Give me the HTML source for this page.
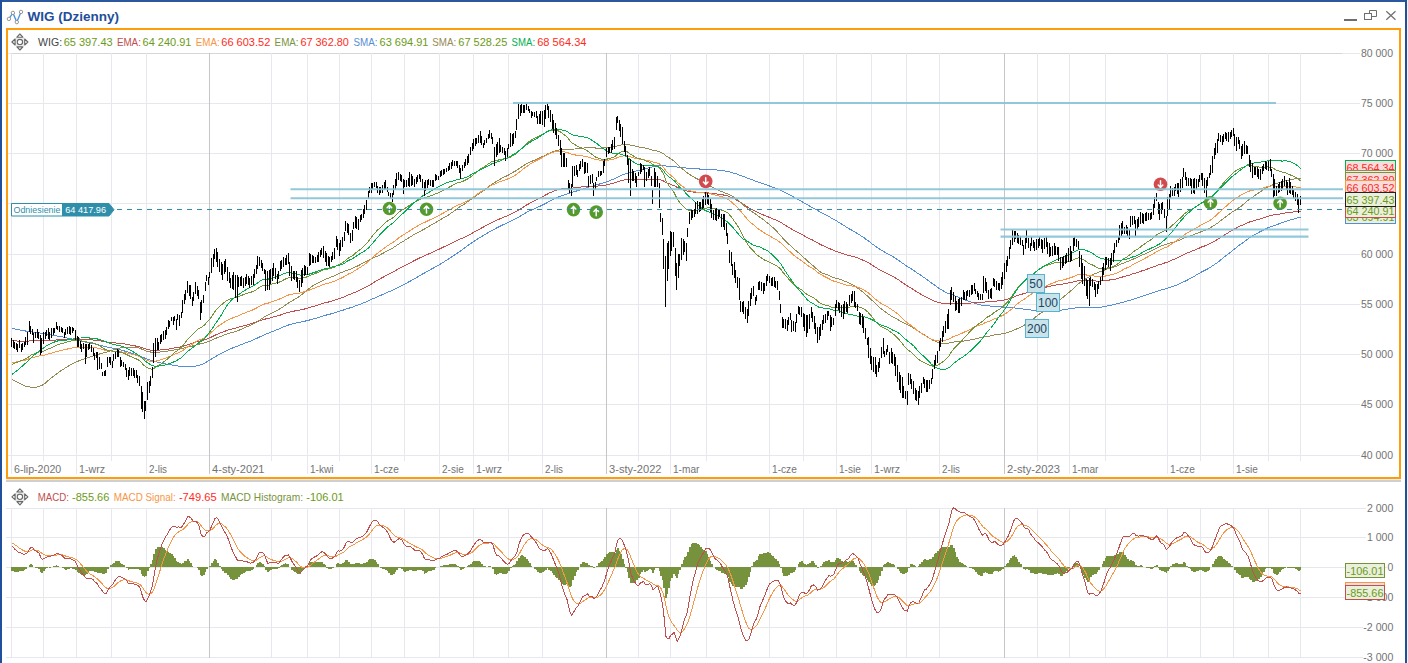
<!DOCTYPE html><html><head><meta charset="utf-8"><title>WIG (Dzienny)</title><style>
html,body{margin:0;padding:0;background:#fff;overflow:hidden}
body{width:1408px;height:663px;position:relative;font-family:"Liberation Sans",sans-serif}
svg{position:absolute;left:0;top:0;display:block}
text{font-family:"Liberation Sans",sans-serif}
</style></head><body>
<svg width="1408" height="663" viewBox="0 0 1408 663">
<rect x="0" y="0" width="1408" height="663" fill="#fff"/>
<g shape-rendering="crispEdges">
<rect x="0" y="0" width="1407" height="2" fill="#2a589f"/>
<rect x="0" y="0" width="2" height="663" fill="#20509c"/>
<rect x="1405" y="0" width="2" height="663" fill="#20509c"/>
<rect x="1407" y="0" width="1" height="663" fill="#f4f0ea"/>
<rect x="6" y="28" width="1395" height="2" fill="#ff9c0a"/>
<rect x="6" y="477" width="1395" height="2" fill="#ff9c0a"/>
<rect x="6" y="28" width="2" height="451" fill="#ff9c0a"/>
<rect x="1399" y="28" width="2" height="451" fill="#ff9c0a"/>
<rect x="6" y="479" width="1395" height="1" fill="#ececec"/>
<rect x="6" y="480" width="1395" height="2" fill="#cfcfcf"/>
</g>
<g shape-rendering="crispEdges">
<rect x="8" y="53" width="1352" height="1" fill="#e6e8ee"/>
<rect x="8" y="103" width="1352" height="1" fill="#e6e8ee"/>
<rect x="8" y="153" width="1352" height="1" fill="#e6e8ee"/>
<rect x="8" y="203" width="1352" height="1" fill="#e6e8ee"/>
<rect x="8" y="254" width="1352" height="1" fill="#e6e8ee"/>
<rect x="8" y="304" width="1352" height="1" fill="#e6e8ee"/>
<rect x="8" y="354" width="1352" height="1" fill="#e6e8ee"/>
<rect x="8" y="404" width="1352" height="1" fill="#e6e8ee"/>
<rect x="8" y="455" width="1352" height="1" fill="#e6e8ee"/>
<rect x="11" y="53" width="1331" height="1" fill="#d6d6d8"/>
<rect x="11" y="53" width="1" height="421" fill="#e6e8ee"/>
<rect x="43" y="53" width="1" height="408" fill="#e6e8ee"/>
<rect x="76" y="53" width="1" height="421" fill="#e6e8ee"/>
<rect x="111" y="53" width="1" height="408" fill="#e6e8ee"/>
<rect x="146" y="53" width="1" height="421" fill="#e6e8ee"/>
<rect x="209" y="53" width="1" height="421" fill="#c6c6c6"/>
<rect x="271" y="53" width="1" height="408" fill="#e6e8ee"/>
<rect x="307" y="53" width="1" height="421" fill="#e6e8ee"/>
<rect x="339" y="53" width="1" height="408" fill="#e6e8ee"/>
<rect x="371" y="53" width="1" height="421" fill="#e6e8ee"/>
<rect x="404" y="53" width="1" height="408" fill="#e6e8ee"/>
<rect x="439" y="53" width="1" height="421" fill="#e6e8ee"/>
<rect x="473" y="53" width="1" height="421" fill="#e6e8ee"/>
<rect x="508" y="53" width="1" height="408" fill="#e6e8ee"/>
<rect x="542" y="53" width="1" height="421" fill="#e6e8ee"/>
<rect x="606" y="53" width="1" height="421" fill="#c6c6c6"/>
<rect x="638" y="53" width="1" height="408" fill="#e6e8ee"/>
<rect x="670" y="53" width="1" height="421" fill="#e6e8ee"/>
<rect x="706" y="53" width="1" height="408" fill="#e6e8ee"/>
<rect x="769" y="53" width="1" height="421" fill="#e6e8ee"/>
<rect x="803" y="53" width="1" height="408" fill="#e6e8ee"/>
<rect x="836" y="53" width="1" height="421" fill="#e6e8ee"/>
<rect x="871" y="53" width="1" height="421" fill="#e6e8ee"/>
<rect x="906" y="53" width="1" height="408" fill="#e6e8ee"/>
<rect x="939" y="53" width="1" height="421" fill="#e6e8ee"/>
<rect x="1004" y="53" width="1" height="421" fill="#c6c6c6"/>
<rect x="1037" y="53" width="1" height="408" fill="#e6e8ee"/>
<rect x="1069" y="53" width="1" height="421" fill="#e6e8ee"/>
<rect x="1105" y="53" width="1" height="408" fill="#e6e8ee"/>
<rect x="1167" y="53" width="1" height="421" fill="#e6e8ee"/>
<rect x="1200" y="53" width="1" height="408" fill="#e6e8ee"/>
<rect x="1233" y="53" width="1" height="421" fill="#e6e8ee"/>
<rect x="1268" y="53" width="1" height="408" fill="#e6e8ee"/>
<rect x="1300" y="53" width="1" height="408" fill="#e6e8ee"/>
</g>
<g shape-rendering="crispEdges">
<rect x="6" y="508" width="1360" height="1" fill="#e6e8ee"/>
<rect x="6" y="537" width="1360" height="1" fill="#e6e8ee"/>
<rect x="6" y="567" width="1381" height="1" fill="#e6e8ee"/>
<rect x="6" y="597" width="1357" height="1" fill="#e6e8ee"/>
<rect x="6" y="627" width="1357" height="1" fill="#e6e8ee"/>
<rect x="6" y="657" width="1357" height="1" fill="#e6e8ee"/>
<rect x="11" y="508" width="1" height="150" fill="#e6e8ee"/>
<rect x="43" y="508" width="1" height="150" fill="#e6e8ee"/>
<rect x="76" y="508" width="1" height="150" fill="#e6e8ee"/>
<rect x="111" y="508" width="1" height="150" fill="#e6e8ee"/>
<rect x="146" y="508" width="1" height="150" fill="#e6e8ee"/>
<rect x="209" y="508" width="1" height="150" fill="#c6c6c6"/>
<rect x="271" y="508" width="1" height="150" fill="#e6e8ee"/>
<rect x="307" y="508" width="1" height="150" fill="#e6e8ee"/>
<rect x="339" y="508" width="1" height="150" fill="#e6e8ee"/>
<rect x="371" y="508" width="1" height="150" fill="#e6e8ee"/>
<rect x="404" y="508" width="1" height="150" fill="#e6e8ee"/>
<rect x="439" y="508" width="1" height="150" fill="#e6e8ee"/>
<rect x="473" y="508" width="1" height="150" fill="#e6e8ee"/>
<rect x="508" y="508" width="1" height="150" fill="#e6e8ee"/>
<rect x="542" y="508" width="1" height="150" fill="#e6e8ee"/>
<rect x="606" y="508" width="1" height="150" fill="#c6c6c6"/>
<rect x="638" y="508" width="1" height="150" fill="#e6e8ee"/>
<rect x="670" y="508" width="1" height="150" fill="#e6e8ee"/>
<rect x="706" y="508" width="1" height="150" fill="#e6e8ee"/>
<rect x="769" y="508" width="1" height="150" fill="#e6e8ee"/>
<rect x="803" y="508" width="1" height="150" fill="#e6e8ee"/>
<rect x="836" y="508" width="1" height="150" fill="#e6e8ee"/>
<rect x="871" y="508" width="1" height="150" fill="#e6e8ee"/>
<rect x="906" y="508" width="1" height="150" fill="#e6e8ee"/>
<rect x="939" y="508" width="1" height="150" fill="#e6e8ee"/>
<rect x="1004" y="508" width="1" height="150" fill="#c6c6c6"/>
<rect x="1037" y="508" width="1" height="150" fill="#e6e8ee"/>
<rect x="1069" y="508" width="1" height="150" fill="#e6e8ee"/>
<rect x="1105" y="508" width="1" height="150" fill="#e6e8ee"/>
<rect x="1167" y="508" width="1" height="150" fill="#e6e8ee"/>
<rect x="1200" y="508" width="1" height="150" fill="#e6e8ee"/>
<rect x="1233" y="508" width="1" height="150" fill="#e6e8ee"/>
<rect x="1268" y="508" width="1" height="150" fill="#e6e8ee"/>
<rect x="1300" y="508" width="1" height="150" fill="#e6e8ee"/>
</g>
<polyline shape-rendering="crispEdges" points="11.9,328.4 13.5,328.7 15.1,329.1 16.7,329.4 18.3,329.7 19.9,330 21.5,330.3 23.1,330.6 24.7,330.9 26.3,331.1 27.9,331.4 29.5,331.5 31.1,331.7 32.7,332 34.3,332.2 35.9,332.4 37.5,332.6 39.1,332.9 40.7,333.2 42.3,333.5 43.9,333.7 45.5,334 47.1,334.2 48.7,334.5 50.3,334.8 51.9,335 53.5,335.3 55.1,335.6 56.7,335.9 58.3,336.2 59.9,336.5 61.5,336.8 63.1,337.1 64.7,337.5 66.3,337.9 67.9,338.2 69.5,338.6 71.1,338.9 72.7,339.2 74.3,339.6 75.9,339.9 77.5,340.3 79.1,340.6 80.7,341 82.3,341.4 83.9,341.7 85.5,342.1 87.1,342.4 88.7,342.7 90.3,343 91.8,343.4 93.4,343.7 95,344 96.6,344.3 98.2,344.7 99.8,345.1 101.4,345.5 103,345.9 104.6,346.3 106.2,346.7 107.8,347.1 109.4,347.4 111,347.8 112.6,348.2 114.2,348.5 115.8,348.9 117.4,349.2 119,349.6 120.6,350 122.2,350.4 123.8,350.8 125.4,351.3 127,351.8 128.6,352.3 130.2,352.7 131.8,353.2 133.4,353.7 135,354.3 136.6,354.8 138.2,355.3 139.8,355.9 141.4,356.6 143,357.3 144.6,358 146.2,358.7 147.8,359.3 149.4,359.9 151,360.5 152.6,361 154.2,361.4 155.8,361.8 157.4,362.2 159,362.6 160.6,362.9 162.2,363.3 163.8,363.6 165.4,363.9 167,364.2 168.6,364.5 170.2,364.8 171.8,365 173.4,365.3 175,365.6 176.6,365.8 178.2,366.1 179.8,366.3 181.4,366.5 183,366.7 184.6,366.8 186.2,366.9 187.8,366.9 189.4,366.8 191,366.7 192.6,366.6 194.2,366.4 195.8,366.1 197.4,365.7 199,365.3 200.6,364.8 202.2,364.2 203.8,363.5 205.4,362.7 207,361.7 208.6,360.8 210.2,359.8 211.8,358.8 213.4,357.8 215,356.8 216.6,355.9 218.2,355 219.8,354.1 221.4,353.3 223,352.4 224.6,351.6 226.2,350.8 227.8,350.1 229.4,349.4 231,348.7 232.6,348 234.2,347.4 235.8,346.7 237.4,346.1 239,345.5 240.6,344.8 242.2,344.2 243.8,343.6 245.4,343 247,342.4 248.6,341.8 250.2,341.2 251.8,340.5 253.3,339.9 254.9,339.2 256.5,338.5 258.1,337.7 259.7,336.9 261.3,336.2 262.9,335.5 264.5,334.8 266.1,334.1 267.7,333.5 269.3,332.8 270.9,332.2 272.5,331.5 274.1,330.8 275.7,330.2 277.3,329.5 278.9,328.9 280.5,328.2 282.1,327.5 283.7,326.8 285.3,326.2 286.9,325.6 288.5,325 290.1,324.5 291.7,324 293.3,323.6 294.9,323.2 296.5,322.8 298.1,322.5 299.7,322.2 301.3,321.9 302.9,321.6 304.5,321.2 306.1,320.9 307.7,320.5 309.3,320.1 310.9,319.6 312.5,319.2 314.1,318.7 315.7,318.3 317.3,317.8 318.9,317.3 320.5,316.8 322.1,316.3 323.7,315.8 325.3,315.3 326.9,314.9 328.5,314.5 330.1,314.1 331.7,313.7 333.3,313.2 334.9,312.8 336.5,312.2 338.1,311.7 339.7,311.2 341.3,310.7 342.9,310.2 344.5,309.6 346.1,309 347.7,308.5 349.3,308.1 350.9,307.6 352.5,307.1 354.1,306.5 355.7,305.9 357.3,305.3 358.9,304.7 360.5,304.1 362.1,303.4 363.7,302.8 365.3,302.2 366.9,301.5 368.5,300.8 370.1,300.1 371.7,299.3 373.3,298.6 374.9,297.9 376.5,297.2 378.1,296.5 379.7,295.8 381.3,295.1 382.9,294.4 384.5,293.7 386.1,292.9 387.7,292.2 389.3,291.6 390.9,290.9 392.5,290.2 394.1,289.5 395.7,288.7 397.3,287.9 398.9,287 400.5,286.2 402.1,285.3 403.7,284.6 405.3,283.7 406.9,282.9 408.5,282 410.1,281.2 411.7,280.3 413.2,279.5 414.8,278.6 416.4,277.7 418,276.8 419.6,275.8 421.2,274.9 422.8,273.9 424.4,273 426,272.1 427.6,271.2 429.2,270.3 430.8,269.4 432.4,268.5 434,267.7 435.6,266.8 437.2,265.9 438.8,265 440.4,264 442,263.1 443.6,262.1 445.2,261.1 446.8,260.1 448.4,259 450,258 451.6,256.9 453.2,255.9 454.8,254.8 456.4,253.7 458,252.7 459.6,251.6 461.2,250.5 462.8,249.2 464.4,248 466,246.8 467.6,245.7 469.2,244.6 470.8,243.4 472.4,242.3 474,241.3 475.6,240.2 477.2,239.2 478.8,238.2 480.4,237.2 482,236.3 483.6,235.3 485.2,234.4 486.8,233.4 488.4,232.5 490,231.6 491.6,230.7 493.2,229.8 494.8,229 496.4,228.1 498,227.3 499.6,226.4 501.2,225.6 502.8,224.9 504.4,224.1 506,223.4 507.6,222.8 509.2,222 510.8,221.2 512.4,220.4 514,219.6 515.6,218.8 517.2,218 518.8,217 520.4,216 522,215 523.6,214.1 525.2,213.2 526.8,212.3 528.4,211.5 530,210.7 531.6,210 533.2,209.3 534.8,208.6 536.4,207.9 538,207.2 539.6,206.4 541.2,205.6 542.8,204.9 544.4,204.1 546,203.3 547.6,202.4 549.2,201.6 550.8,200.7 552.4,199.9 554,199.2 555.6,198.4 557.2,197.6 558.8,196.9 560.4,196.3 562,195.7 563.6,195.1 565.2,194.6 566.8,194 568.4,193.5 570,193.1 571.5,192.6 573.1,192.1 574.7,191.6 576.3,191.1 577.9,190.6 579.5,190.2 581.1,189.6 582.7,189.1 584.3,188.6 585.9,188 587.5,187.4 589.1,187 590.7,186.5 592.3,186.1 593.9,185.7 595.5,185.2 597.1,184.7 598.7,184.2 600.3,183.8 601.9,183.3 603.5,182.9 605.1,182.4 606.7,181.8 608.3,181.2 609.9,180.6 611.5,179.9 613.1,179.3 614.7,178.6 616.3,177.8 617.9,176.9 619.5,176.2 621.1,175.5 622.7,174.8 624.3,174.2 625.9,173.7 627.5,173.1 629.1,172.7 630.7,172.4 632.3,172 633.9,171.6 635.5,171.2 637.1,170.8 638.7,170.4 640.3,170 641.9,169.6 643.5,169.1 645.1,168.7 646.7,168.3 648.3,167.9 649.9,167.5 651.5,167.1 653.1,166.8 654.7,166.5 656.3,166.2 657.9,165.9 659.5,165.7 661.1,165.5 662.7,165.5 664.3,165.7 665.9,166 667.5,166.1 669.1,166.2 670.7,166.2 672.3,166.3 673.9,166.4 675.5,166.6 677.1,167 678.7,167.2 680.3,167.4 681.9,167.5 683.5,167.7 685.1,167.8 686.7,168.1 688.3,168.2 689.9,168.4 691.5,168.5 693.1,168.6 694.7,168.8 696.3,168.9 697.9,168.9 699.5,169 701.1,169 702.7,169.1 704.3,169.2 705.9,169.2 707.5,169.3 709.1,169.3 710.7,169.4 712.3,169.5 713.9,169.6 715.5,169.8 717.1,170 718.7,170.2 720.3,170.4 721.9,170.6 723.5,170.8 725.1,171 726.7,171.3 728.3,171.6 729.9,172 731.4,172.4 733,172.9 734.6,173.3 736.2,173.8 737.8,174.4 739.4,175 741,175.6 742.6,176.2 744.2,176.8 745.8,177.5 747.4,178.1 749,178.7 750.6,179.3 752.2,179.8 753.8,180.4 755.4,181 757,181.6 758.6,182.1 760.2,182.7 761.8,183.3 763.4,183.8 765,184.4 766.6,185 768.2,185.5 769.8,186.1 771.4,186.7 773,187.3 774.6,187.9 776.2,188.5 777.8,189.1 779.4,189.8 781,190.4 782.6,191.2 784.2,192.1 785.8,192.9 787.4,193.7 789,194.5 790.6,195.4 792.2,196.3 793.8,197.2 795.4,198.1 797,199 798.6,199.9 800.2,200.7 801.8,201.6 803.4,202.5 805,203.4 806.6,204.4 808.2,205.3 809.8,206.2 811.4,207.1 813,207.9 814.6,208.8 816.2,209.7 817.8,210.6 819.4,211.6 821,212.4 822.6,213.3 824.2,214.1 825.8,214.9 827.4,215.8 829,216.6 830.6,217.6 832.2,218.5 833.8,219.4 835.4,220.3 837,221.2 838.6,222.2 840.2,223.2 841.8,224.2 843.4,225.2 845,226.2 846.6,227.2 848.2,228.2 849.8,229.1 851.4,230 853,230.9 854.6,231.9 856.2,232.8 857.8,233.7 859.4,234.7 861,235.8 862.6,236.8 864.2,237.9 865.8,239.1 867.4,240.3 869,241.4 870.6,242.7 872.2,243.9 873.8,245 875.4,246.2 877,247.4 878.6,248.5 880.2,249.5 881.8,250.5 883.4,251.4 885,252.3 886.6,253.2 888.2,254 889.8,254.9 891.3,255.8 892.9,256.7 894.5,257.7 896.1,258.7 897.7,259.8 899.3,260.9 900.9,262 902.5,263.2 904.1,264.3 905.7,265.4 907.3,266.5 908.9,267.5 910.5,268.4 912.1,269.5 913.7,270.5 915.3,271.5 916.9,272.7 918.5,273.8 920.1,274.8 921.7,275.9 923.3,277 924.9,278.1 926.5,279.3 928.1,280.5 929.7,281.6 931.3,282.8 932.9,283.9 934.5,285.1 936.1,286.2 937.7,287.4 939.3,288.5 940.9,289.5 942.5,290.5 944.1,291.4 945.7,292.2 947.3,293 948.9,293.7 950.5,294.2 952.1,294.7 953.7,295.3 955.3,296 956.9,296.6 958.5,297.3 960.1,298 961.7,298.6 963.3,299.2 964.9,299.8 966.5,300.4 968.1,300.9 969.7,301.5 971.3,302 972.9,302.5 974.5,303 976.1,303.6 977.7,304.2 979.3,304.6 980.9,305 982.5,305.3 984.1,305.4 985.7,305.3 987.3,305.5 988.9,305.8 990.5,306.1 992.1,306.3 993.7,306.5 995.3,306.5 996.9,306.5 998.5,306.7 1000.1,306.8 1001.7,307 1003.3,307.1 1004.9,307.3 1006.5,307.3 1008.1,307.5 1009.7,307.7 1011.3,307.8 1012.9,307.9 1014.5,308 1016.1,308.2 1017.7,308.4 1019.3,308.6 1020.9,308.8 1022.5,309 1024.1,309.2 1025.7,309.5 1027.3,309.6 1028.9,309.8 1030.5,310 1032.1,310.2 1033.7,310.3 1035.3,310.4 1036.9,310.6 1038.5,310.7 1040.1,310.8 1041.7,310.9 1043.3,311 1044.9,311.1 1046.5,311.2 1048.1,311.2 1049.7,311.2 1051.2,311.2 1052.8,311.1 1054.4,310.9 1056,310.8 1057.6,310.6 1059.2,310.4 1060.8,310.2 1062.4,310 1064,309.7 1065.6,309.4 1067.2,309.2 1068.8,308.9 1070.4,308.7 1072,308.5 1073.6,308.2 1075.2,307.9 1076.8,307.7 1078.4,307.5 1080,307.4 1081.6,307.3 1083.2,307.3 1084.8,307.3 1086.4,307.4 1088,307.5 1089.6,307.5 1091.2,307.5 1092.8,307.4 1094.4,307.5 1096,307.5 1097.6,307.5 1099.2,307.4 1100.8,307.2 1102.4,306.9 1104,306.6 1105.6,306.3 1107.2,306 1108.8,305.7 1110.4,305.4 1112,305 1113.6,304.7 1115.2,304.3 1116.8,303.9 1118.4,303.6 1120,303.1 1121.6,302.7 1123.2,302.2 1124.8,301.7 1126.4,301.2 1128,300.8 1129.6,300.4 1131.2,299.9 1132.8,299.4 1134.4,298.9 1136,298.3 1137.6,297.8 1139.2,297.2 1140.8,296.6 1142.4,296.1 1144,295.6 1145.6,295.1 1147.2,294.6 1148.8,294.1 1150.4,293.5 1152,293 1153.6,292.4 1155.2,291.9 1156.8,291.4 1158.4,290.9 1160,290.4 1161.6,289.9 1163.2,289.4 1164.8,289 1166.4,288.5 1168,288 1169.6,287.5 1171.2,287 1172.8,286.4 1174.4,285.9 1176,285.3 1177.6,284.6 1179.2,284 1180.8,283.3 1182.4,282.5 1184,281.7 1185.6,280.9 1187.2,280.1 1188.8,279.3 1190.4,278.4 1192,277.5 1193.6,276.6 1195.2,275.7 1196.8,274.7 1198.4,273.8 1200,272.9 1201.6,272 1203.2,271.2 1204.8,270.4 1206.4,269.6 1208,268.7 1209.6,267.8 1211.1,266.8 1212.7,265.8 1214.3,264.7 1215.9,263.6 1217.5,262.4 1219.1,261.2 1220.7,259.9 1222.3,258.6 1223.9,257.3 1225.5,256 1227.1,254.7 1228.7,253.5 1230.3,252.3 1231.9,251.1 1233.5,249.8 1235.1,248.5 1236.7,247.3 1238.3,246 1239.9,244.8 1241.5,243.7 1243.1,242.5 1244.7,241.3 1246.3,240.2 1247.9,239 1249.5,237.9 1251.1,236.9 1252.7,235.9 1254.3,234.9 1255.9,234 1257.5,233.1 1259.1,232.3 1260.7,231.4 1262.3,230.6 1263.9,229.8 1265.5,229 1267.1,228.2 1268.7,227.5 1270.3,226.9 1271.9,226.3 1273.5,225.8 1275.1,225.2 1276.7,224.6 1278.3,224.1 1279.9,223.5 1281.5,222.9 1283.1,222.3 1284.7,221.8 1286.3,221.2 1287.9,220.7 1289.5,220.2 1291.1,219.8 1292.7,219.3 1294.3,218.8 1295.9,218.4 1297.5,217.9 1299.1,217.4 1300.7,217" fill="none" stroke="#558ed5" stroke-width="1"/>
<polyline shape-rendering="crispEdges" points="11.9,340.8 13.5,340.8 15.1,340.9 16.7,341 18.3,341 19.9,341.1 21.5,341.1 23.1,341.1 24.7,341.2 26.3,341.1 27.9,341.1 29.5,340.9 31.1,340.8 32.7,340.7 34.3,340.7 35.9,340.7 37.5,340.6 39.1,340.6 40.7,340.7 42.3,340.8 43.9,340.7 45.5,340.6 47.1,340.5 48.7,340.4 50.3,340.4 51.9,340.3 53.5,340.2 55.1,340.1 56.7,339.9 58.3,339.8 59.9,339.7 61.5,339.6 63.1,339.5 64.7,339.5 66.3,339.4 67.9,339.3 69.5,339.2 71.1,339.1 72.7,339 74.3,339 75.9,339 77.5,339 79.1,339.1 80.7,339.2 82.3,339.3 83.9,339.4 85.5,339.5 87.1,339.6 88.7,339.6 90.3,339.7 91.8,339.8 93.4,340 95,340.2 96.6,340.3 98.2,340.6 99.8,340.8 101.4,341.1 103,341.5 104.6,341.8 106.2,342.1 107.8,342.2 109.4,342.4 111,342.5 112.6,342.7 114.2,342.9 115.8,343 117.4,343.1 119,343.2 120.6,343.4 122.2,343.7 123.8,343.9 125.4,344.1 127,344.4 128.6,344.8 130.2,345 131.8,345.3 133.4,345.6 135,345.9 136.6,346.2 138.2,346.5 139.8,346.9 141.4,347.5 143,348.1 144.6,348.6 146.2,349.2 147.8,349.5 149.4,349.9 151,350.2 152.6,350.4 154.2,350.3 155.8,350.2 157.4,350.1 159,350.1 160.6,349.9 162.2,349.8 163.8,349.6 165.4,349.5 167,349.2 168.6,349 170.2,348.7 171.8,348.4 173.4,348.1 175,347.8 176.6,347.6 178.2,347.3 179.8,347 181.4,346.6 183,346.2 184.6,345.7 186.2,345.2 187.8,344.6 189.4,344.1 191,343.6 192.6,343.1 194.2,342.7 195.8,342.1 197.4,341.6 199,341.2 200.6,340.9 202.2,340.5 203.8,340.1 205.4,339.5 207,338.9 208.6,338.3 210.2,337.7 211.8,336.9 213.4,336.1 215,335.3 216.6,334.5 218.2,333.8 219.8,333.2 221.4,332.6 223,332 224.6,331.4 226.2,330.7 227.8,330.2 229.4,329.7 231,329.3 232.6,328.9 234.2,328.4 235.8,328 237.4,327.6 239,327.1 240.6,326.7 242.2,326.2 243.8,325.8 245.4,325.3 247,324.9 248.6,324.4 250.2,324 251.8,323.5 253.3,323.1 254.9,322.5 256.5,322 258.1,321.4 259.7,320.7 261.3,320.2 262.9,319.7 264.5,319.2 266.1,318.9 267.7,318.6 269.3,318.1 270.9,317.7 272.5,317.2 274.1,316.8 275.7,316.3 277.3,315.9 278.9,315.5 280.5,315 282.1,314.4 283.7,313.9 285.3,313.4 286.9,312.8 288.5,312.3 290.1,312 291.7,311.6 293.3,311.3 294.9,310.9 296.5,310.6 298.1,310.4 299.7,310.1 301.3,309.8 302.9,309.4 304.5,309 306.1,308.5 307.7,308.1 309.3,307.6 310.9,307.1 312.5,306.6 314.1,306.2 315.7,305.7 317.3,305.2 318.9,304.7 320.5,304.2 322.1,303.6 323.7,303.2 325.3,302.7 326.9,302.3 328.5,302 330.1,301.5 331.7,301.1 333.3,300.6 334.9,300.1 336.5,299.5 338.1,298.9 339.7,298.4 341.3,297.9 342.9,297.3 344.5,296.7 346.1,295.9 347.7,295.3 349.3,294.6 350.9,294.1 352.5,293.4 354.1,292.7 355.7,292 357.3,291.3 358.9,290.6 360.5,289.8 362.1,289.1 363.7,288.3 365.3,287.5 366.9,286.7 368.5,285.7 370.1,284.8 371.7,283.8 373.3,282.8 374.9,281.8 376.5,280.9 378.1,280 379.7,279.1 381.3,278.2 382.9,277.3 384.5,276.4 386.1,275.5 387.7,274.7 389.3,273.9 390.9,273.1 392.5,272.3 394.1,271.5 395.7,270.6 397.3,269.6 398.9,268.7 400.5,267.8 402.1,266.9 403.7,266.2 405.3,265.4 406.9,264.5 408.5,263.7 410.1,262.8 411.7,262 413.2,261.2 414.8,260.4 416.4,259.6 418,258.8 419.6,258 421.2,257.2 422.8,256.5 424.4,255.9 426,255.1 427.6,254.4 429.2,253.7 430.8,253 432.4,252.3 434,251.6 435.6,250.8 437.2,250.1 438.8,249.3 440.4,248.6 442,247.8 443.6,247 445.2,246.3 446.8,245.5 448.4,244.7 450,243.9 451.6,243.1 453.2,242.3 454.8,241.5 456.4,240.8 458,240 459.6,239.3 461.2,238.7 462.8,238 464.4,237.2 466,236.5 467.6,235.7 469.2,234.9 470.8,234 472.4,233.1 474,232.2 475.6,231.3 477.2,230.4 478.8,229.5 480.4,228.6 482,227.7 483.6,226.9 485.2,226.1 486.8,225.2 488.4,224.3 490,223.4 491.6,222.5 493.2,221.8 494.8,221.2 496.4,220.5 498,219.7 499.6,219 501.2,218.3 502.8,217.7 504.4,217 506,216.4 507.6,215.7 509.2,215 510.8,214.2 512.4,213.5 514,212.7 515.6,211.9 517.2,211 518.8,209.9 520.4,208.9 522,207.9 523.6,206.9 525.2,205.9 526.8,204.9 528.4,204 530,203.1 531.6,202.2 533.2,201.4 534.8,200.5 536.4,199.7 538,198.9 539.6,198.1 541.2,197.3 542.8,196.5 544.4,195.7 546,194.8 547.6,193.9 549.2,193.1 550.8,192.4 552.4,191.7 554,191.1 555.6,190.5 557.2,190 558.8,189.5 560.4,189.2 562,188.9 563.6,188.7 565.2,188.4 566.8,188.2 568.4,188.2 570,188.2 571.5,188.2 573.1,188 574.7,187.8 576.3,187.6 577.9,187.4 579.5,187.2 581.1,187 582.7,186.7 584.3,186.6 585.9,186.4 587.5,186.3 589.1,186.3 590.7,186.2 592.3,186.2 593.9,186.2 595.5,186.2 597.1,186.1 598.7,185.9 600.3,185.8 601.9,185.7 603.5,185.4 605.1,185.2 606.7,184.8 608.3,184.5 609.9,184.1 611.5,183.7 613.1,183.3 614.7,182.9 616.3,182.3 617.9,181.6 619.5,181.1 621.1,180.6 622.7,180.2 624.3,179.9 625.9,179.7 627.5,179.5 629.1,179.5 630.7,179.6 632.3,179.6 633.9,179.6 635.5,179.5 637.1,179.5 638.7,179.5 640.3,179.3 641.9,179.2 643.5,179.1 645.1,179.2 646.7,179.2 648.3,179.1 649.9,179.1 651.5,179.2 653.1,179.4 654.7,179.4 656.3,179.4 657.9,179.4 659.5,179.6 661.1,180 662.7,180.6 664.3,181.4 665.9,182.5 667.5,183.2 669.1,183.8 670.7,184.4 672.3,185 673.9,185.6 675.5,186.4 677.1,187.4 678.7,188.1 680.3,188.8 681.9,189.3 683.5,189.8 685.1,190.4 686.7,190.9 688.3,191.3 689.9,191.6 691.5,191.8 693.1,192 694.7,192.1 696.3,192.3 697.9,192.4 699.5,192.5 701.1,192.6 702.7,192.7 704.3,192.7 705.9,192.8 707.5,192.9 709.1,193 710.7,193.1 712.3,193.3 713.9,193.6 715.5,193.8 717.1,194 718.7,194.2 720.3,194.5 721.9,194.7 723.5,195 725.1,195.4 726.7,195.7 728.3,196.2 729.9,196.8 731.4,197.5 733,198.3 734.6,199 736.2,199.8 737.8,200.7 739.4,201.6 741,202.7 742.6,203.8 744.2,204.8 745.8,205.9 747.4,207 749,208 750.6,208.8 752.2,209.6 753.8,210.4 755.4,211.3 757,212.1 758.6,212.9 760.2,213.6 761.8,214.3 763.4,215 765,215.7 766.6,216.3 768.2,216.9 769.8,217.5 771.4,218.2 773,218.9 774.6,219.5 776.2,220.2 777.8,220.9 779.4,221.6 781,222.5 782.6,223.5 784.2,224.6 785.8,225.5 787.4,226.5 789,227.5 790.6,228.4 792.2,229.4 793.8,230.3 795.4,231.3 797,232.1 798.6,232.9 800.2,233.7 801.8,234.5 803.4,235.4 805,236.3 806.6,237.2 808.2,238 809.8,238.8 811.4,239.5 813,240.3 814.6,241.2 816.2,242.1 817.8,243 819.4,243.9 821,244.7 822.6,245.5 824.2,246.2 825.8,246.9 827.4,247.6 829,248.3 830.6,249.1 832.2,249.8 833.8,250.5 835.4,251 837,251.5 838.6,252.1 840.2,252.6 841.8,253.2 843.4,253.8 845,254.3 846.6,254.8 848.2,255.3 849.8,255.7 851.4,256.1 853,256.6 854.6,257 856.2,257.5 857.8,258 859.4,258.7 861,259.3 862.6,260 864.2,260.7 865.8,261.4 867.4,262.2 869,263.2 870.6,264.1 872.2,265.1 873.8,266.2 875.4,267.2 877,268.2 878.6,269.2 880.2,270.1 881.8,270.9 883.4,271.6 885,272.4 886.6,273.2 888.2,274 889.8,274.8 891.3,275.7 892.9,276.5 894.5,277.4 896.1,278.3 897.7,279.3 899.3,280.4 900.9,281.5 902.5,282.6 904.1,283.7 905.7,284.8 907.3,285.9 908.9,286.8 910.5,287.7 912.1,288.7 913.7,289.7 915.3,290.8 916.9,291.8 918.5,292.9 920.1,293.8 921.7,294.7 923.3,295.6 924.9,296.4 926.5,297.3 928.1,298.2 929.7,299 931.3,299.8 932.9,300.5 934.5,301.1 936.1,301.7 937.7,302.2 939.3,302.6 940.9,303 942.5,303.3 944.1,303.5 945.7,303.7 947.3,303.9 948.9,304 950.5,303.8 952.1,303.7 953.7,303.7 955.3,303.7 956.9,303.8 958.5,303.8 960.1,303.7 961.7,303.7 963.3,303.6 964.9,303.5 966.5,303.4 968.1,303.3 969.7,303.1 971.3,303 972.9,302.8 974.5,302.7 976.1,302.6 977.7,302.5 979.3,302.5 980.9,302.4 982.5,302.3 984.1,302.1 985.7,301.9 987.3,301.8 988.9,301.8 990.5,301.6 992.1,301.5 993.7,301.3 995.3,301.1 996.9,301 998.5,300.8 1000.1,300.7 1001.7,300.5 1003.3,300.2 1004.9,299.9 1006.5,299.5 1008.1,299.1 1009.7,298.6 1011.3,298 1012.9,297.4 1014.5,296.7 1016.1,296.1 1017.7,295.6 1019.3,295 1020.9,294.5 1022.5,294 1024.1,293.6 1025.7,293.1 1027.3,292.5 1028.9,292 1030.5,291.5 1032.1,291.1 1033.7,290.6 1035.3,290.2 1036.9,289.7 1038.5,289.2 1040.1,288.7 1041.7,288.3 1043.3,287.9 1044.9,287.5 1046.5,287 1048.1,286.7 1049.7,286.4 1051.2,286 1052.8,285.7 1054.4,285.3 1056,285 1057.6,284.7 1059.2,284.4 1060.8,284.3 1062.4,284.1 1064,283.8 1065.6,283.5 1067.2,283.3 1068.8,282.9 1070.4,282.6 1072,282.3 1073.6,281.9 1075.2,281.5 1076.8,281.1 1078.4,280.8 1080,280.6 1081.6,280.5 1083.2,280.5 1084.8,280.5 1086.4,280.6 1088,280.8 1089.6,280.8 1091.2,280.8 1092.8,280.8 1094.4,280.9 1096,281 1097.6,281 1099.2,281.1 1100.8,281 1102.4,280.9 1104,280.8 1105.6,280.6 1107.2,280.3 1108.8,280.1 1110.4,279.9 1112,279.7 1113.6,279.4 1115.2,279.1 1116.8,278.7 1118.4,278.3 1120,277.8 1121.6,277.3 1123.2,276.8 1124.8,276.3 1126.4,275.9 1128,275.4 1129.6,275 1131.2,274.4 1132.8,273.8 1134.4,273.3 1136,272.9 1137.6,272.4 1139.2,271.9 1140.8,271.3 1142.4,270.7 1144,270.2 1145.6,269.7 1147.2,269.1 1148.8,268.6 1150.4,268 1152,267.5 1153.6,266.9 1155.2,266.2 1156.8,265.5 1158.4,265 1160,264.5 1161.6,264 1163.2,263.4 1164.8,262.9 1166.4,262.5 1168,261.9 1169.6,261.2 1171.2,260.5 1172.8,259.8 1174.4,259.1 1176,258.4 1177.6,257.7 1179.2,256.9 1180.8,256.2 1182.4,255.4 1184,254.6 1185.6,253.8 1187.2,253.1 1188.8,252.4 1190.4,251.7 1192,251.1 1193.6,250.5 1195.2,249.8 1196.8,249.1 1198.4,248.5 1200,247.7 1201.6,247 1203.2,246.4 1204.8,245.9 1206.4,245.2 1208,244.6 1209.6,243.9 1211.1,243.1 1212.7,242.3 1214.3,241.4 1215.9,240.4 1217.5,239.4 1219.1,238.4 1220.7,237.4 1222.3,236.4 1223.9,235.4 1225.5,234.4 1227.1,233.4 1228.7,232.4 1230.3,231.4 1231.9,230.5 1233.5,229.5 1235.1,228.7 1236.7,227.9 1238.3,227 1239.9,226.2 1241.5,225.5 1243.1,224.8 1244.7,224 1246.3,223.3 1247.9,222.6 1249.5,222 1251.1,221.5 1252.7,221 1254.3,220.6 1255.9,220.1 1257.5,219.6 1259.1,219.2 1260.7,218.7 1262.3,218.2 1263.9,217.7 1265.5,217.1 1267.1,216.6 1268.7,216.1 1270.3,215.7 1271.9,215.3 1273.5,215 1275.1,214.8 1276.7,214.6 1278.3,214.3 1279.9,214 1281.5,213.7 1283.1,213.4 1284.7,213.1 1286.3,212.8 1287.9,212.6 1289.5,212.4 1291.1,212.2 1292.7,212 1294.3,211.8 1295.9,211.7 1297.5,211.6 1299.1,211.6 1300.7,211.5" fill="none" stroke="#c0504d" stroke-width="1"/>
<polyline shape-rendering="crispEdges" points="11.9,379.6 13.5,380.4 15.1,381.2 16.7,381.9 18.3,382.8 19.9,383.5 21.5,384.3 23.1,385 24.7,385.8 26.3,386.3 27.9,386.8 29.5,387 31.1,387.1 32.7,387.2 34.3,387.3 35.9,387.2 37.5,386.8 39.1,386.4 40.7,385.8 42.3,385.1 43.9,384.1 45.5,382.9 47.1,381.5 48.7,380.1 50.3,378.8 51.9,377.5 53.5,376.3 55.1,375 56.7,373.8 58.3,372.6 59.9,371.5 61.5,370.4 63.1,369.4 64.7,368.4 66.3,367.4 67.9,366.4 69.5,365.5 71.1,364.6 72.7,363.7 74.3,362.8 75.9,362.1 77.5,361.4 79.1,360.8 80.7,360.2 82.3,359.7 83.9,359.1 85.5,358.6 87.1,358.1 88.7,357.5 90.3,356.9 91.8,356.4 93.4,355.9 95,355.4 96.6,354.8 98.2,354.4 99.8,353.9 101.4,353.4 103,353.1 104.6,352.6 106.2,352.2 107.8,351.7 109.4,351.2 111,350.7 112.6,350.2 114.2,349.7 115.8,349.2 117.4,348.7 119,348.3 120.6,347.9 122.2,347.6 123.8,347.3 125.4,347.1 127,347 128.6,347 130.2,347 131.8,347 133.4,347.1 135,347.3 136.6,347.6 138.2,347.9 139.8,348.3 141.4,349 143,349.7 144.6,350.3 146.2,351 147.8,351.4 149.4,351.8 151,352.1 152.6,352.3 154.2,352.3 155.8,352.3 157.4,352.1 159,352.1 160.6,351.9 162.2,351.7 163.8,351.5 165.4,351.3 167,351.1 168.6,350.9 170.2,350.8 171.8,350.5 173.4,350.2 175,349.9 176.6,349.7 178.2,349.4 179.8,349.1 181.4,348.8 183,348.4 184.6,347.9 186.2,347.4 187.8,346.9 189.4,346.6 191,346.3 192.6,346 194.2,345.5 195.8,345 197.4,344.6 199,344.1 200.6,343.8 202.2,343.4 203.8,343 205.4,342.5 207,341.9 208.6,341.4 210.2,340.8 211.8,340.1 213.4,339.4 215,338.6 216.6,338 218.2,337.3 219.8,336.7 221.4,336.1 223,335.5 224.6,334.9 226.2,334.3 227.8,333.7 229.4,333.3 231,332.8 232.6,332.4 234.2,331.9 235.8,331.4 237.4,330.9 239,330.2 240.6,329.5 242.2,328.8 243.8,328.1 245.4,327.4 247,326.7 248.6,326.1 250.2,325.4 251.8,324.7 253.3,323.9 254.9,323 256.5,322.1 258.1,321.1 259.7,320 261.3,319 262.9,317.9 264.5,316.9 266.1,316.1 267.7,315.3 269.3,314.5 270.9,313.6 272.5,312.7 274.1,311.9 275.7,311.1 277.3,310.3 278.9,309.5 280.5,308.4 282.1,307.4 283.7,306.3 285.3,305.2 286.9,304.1 288.5,303 290.1,302 291.7,301 293.3,300.1 294.9,299.1 296.5,298.1 298.1,297.2 299.7,296.2 301.3,294.9 302.9,293.5 304.5,292.1 306.1,290.8 307.7,289.6 309.3,288.3 310.9,287.1 312.5,286 314.1,285.1 315.7,284.3 317.3,283.5 318.9,282.6 320.5,281.7 322.1,280.9 323.7,280.1 325.3,279.4 326.9,278.7 328.5,278.1 330.1,277.5 331.7,276.9 333.3,276.2 334.9,275.6 336.5,274.7 338.1,274 339.7,273.3 341.3,272.6 342.9,271.9 344.5,271.3 346.1,270.6 347.7,270.1 349.3,269.5 350.9,268.9 352.5,268.2 354.1,267.5 355.7,266.8 357.3,266.1 358.9,265.3 360.5,264.3 362.1,263.4 363.7,262.6 365.3,261.8 366.9,261.1 368.5,260.2 370.1,259.3 371.7,258.6 373.3,257.9 374.9,257.2 376.5,256.5 378.1,255.8 379.7,255 381.3,254.2 382.9,253.3 384.5,252.4 386.1,251.6 387.7,250.8 389.3,249.9 390.9,249 392.5,248.1 394.1,247.1 395.7,246 397.3,244.9 398.9,243.9 400.5,242.9 402.1,241.9 403.7,241 405.3,240 406.9,239 408.5,238 410.1,237 411.7,236 413.2,235 414.8,234.2 416.4,233.3 418,232.5 419.6,231.6 421.2,230.8 422.8,229.9 424.4,229.1 426,228.1 427.6,227.1 429.2,226.1 430.8,225.3 432.4,224.4 434,223.5 435.6,222.5 437.2,221.5 438.8,220.5 440.4,219.6 442,218.7 443.6,217.8 445.2,216.9 446.8,216 448.4,215 450,214 451.6,212.8 453.2,211.7 454.8,210.5 456.4,209.4 458,208.2 459.6,207 461.2,206.1 462.8,205 464.4,204 466,202.9 467.6,201.8 469.2,200.8 470.8,199.7 472.4,198.5 474,197.4 475.6,196.2 477.2,195 478.8,193.8 480.4,192.7 482,191.7 483.6,190.6 485.2,189.4 486.8,188.1 488.4,186.8 490,185.6 491.6,184.4 493.2,183.3 494.8,182.4 496.4,181.6 498,180.6 499.6,179.6 501.2,178.6 502.8,177.8 504.4,177 506,176.3 507.6,175.5 509.2,174.6 510.8,173.6 512.4,172.6 514,171.8 515.6,170.9 517.2,169.9 518.8,168.8 520.4,167.7 522,166.6 523.6,165.5 525.2,164.6 526.8,163.6 528.4,162.8 530,162.1 531.6,161.4 533.2,160.7 534.8,160 536.4,159.3 538,158.6 539.6,157.9 541.2,157.1 542.8,156.4 544.4,155.7 546,154.9 547.6,154 549.2,153.2 550.8,152.5 552.4,151.8 554,151.2 555.6,150.7 557.2,150.3 558.8,150 560.4,149.8 562,149.6 563.6,149.3 565.2,149.1 566.8,149 568.4,149 570,149.2 571.5,149.2 573.1,149.1 574.7,149 576.3,148.9 577.9,148.8 579.5,148.7 581.1,148.5 582.7,148.3 584.3,148 585.9,147.9 587.5,147.8 589.1,147.8 590.7,147.8 592.3,147.8 593.9,147.9 595.5,148 597.1,148 598.7,148 600.3,148 601.9,148 603.5,147.9 605.1,147.8 606.7,147.6 608.3,147.4 609.9,147.3 611.5,147.1 613.1,146.9 614.7,146.7 616.3,146.2 617.9,145.7 619.5,145.3 621.1,144.9 622.7,144.6 624.3,144.5 625.9,144.4 627.5,144.5 629.1,144.7 630.7,145.1 632.3,145.4 633.9,145.8 635.5,146.2 637.1,146.6 638.7,146.9 640.3,147.2 641.9,147.5 643.5,147.7 645.1,148.1 646.7,148.5 648.3,148.9 649.9,149.3 651.5,149.8 653.1,150.4 654.7,150.5 656.3,150.8 657.9,151.2 659.5,151.8 661.1,152.5 662.7,153.3 664.3,154.4 665.9,155.8 667.5,156.8 669.1,157.8 670.7,158.8 672.3,159.9 673.9,161 675.5,162.4 677.1,164 678.7,165.5 680.3,167 681.9,168.4 683.5,169.8 685.1,171.1 686.7,172.5 688.3,173.7 689.9,174.7 691.5,175.7 693.1,176.6 694.7,177.6 696.3,178.4 697.9,179.3 699.5,180.1 701.1,181 702.7,181.8 704.3,182.7 705.9,183.5 707.5,184.5 709.1,185.4 710.7,186.3 712.3,187.2 713.9,188.1 715.5,188.9 717.1,189.7 718.7,190.4 720.3,191 721.9,191.7 723.5,192.3 725.1,192.9 726.7,193.6 728.3,194.1 729.9,194.8 731.4,195.6 733,196.6 734.6,197.7 736.2,198.8 737.8,199.9 739.4,201.2 741,202.7 742.6,204.2 744.2,205.6 745.8,207 747.4,208.4 749,209.6 750.6,210.8 752.2,211.9 753.8,212.9 755.4,214 757,215.2 758.6,216.3 760.2,217.4 761.8,218.6 763.4,219.8 765,221 766.6,222.3 768.2,223.6 769.8,224.9 771.4,226.3 773,227.7 774.6,229.2 776.2,230.8 777.8,232.5 779.4,234.2 781,236 782.6,237.9 784.2,239.6 785.8,241.3 787.4,242.9 789,244.3 790.6,245.6 792.2,247.1 793.8,248.6 795.4,250.1 797,251.5 798.6,252.8 800.2,254.3 801.8,255.7 803.4,257.3 805,258.7 806.6,260.2 808.2,261.6 809.8,263.1 811.4,264.3 813,265.5 814.6,267 816.2,268.5 817.8,270.1 819.4,271.3 821,272.4 822.6,273.3 824.2,273.9 825.8,274.1 827.4,274.7 829,275.4 830.6,276.3 832.2,277 833.8,277.8 835.4,278.2 837,278.3 838.6,278.8 840.2,279.3 841.8,280 843.4,280.7 845,281.3 846.6,281.9 848.2,282.7 849.8,283.5 851.4,284.3 853,285.2 854.6,286.1 856.2,287.2 857.8,288.2 859.4,289.4 861,290.6 862.6,291.8 864.2,293.1 865.8,294.6 867.4,296 869,297.5 870.6,299 872.2,300.5 873.8,302 875.4,303.6 877,305.1 878.6,306.6 880.2,308.1 881.8,309.3 883.4,310.5 885,311.7 886.6,312.9 888.2,314 889.8,315 891.3,316 892.9,316.9 894.5,317.8 896.1,318.7 897.7,319.6 899.3,320.5 900.9,321.3 902.5,322.1 904.1,323 905.7,323.8 907.3,324.6 908.9,325.3 910.5,326.1 912.1,327.1 913.7,328.1 915.3,329.1 916.9,330.1 918.5,331.2 920.1,332.3 921.7,333.3 923.3,334.2 924.9,335.2 926.5,336.3 928.1,337.4 929.7,338.4 931.3,339.3 932.9,340.2 934.5,340.9 936.1,341.7 937.7,342.3 939.3,342.7 940.9,343 942.5,343.1 944.1,343.1 945.7,343.1 947.3,343.1 948.9,343 950.5,342.7 952.1,342.3 953.7,342.1 955.3,341.9 956.9,341.8 958.5,341.8 960.1,341.7 961.7,341.5 963.3,341.2 964.9,340.9 966.5,340.5 968.1,340.2 969.7,340 971.3,339.8 972.9,339.4 974.5,339.1 976.1,338.7 977.7,338.2 979.3,337.9 980.9,337.6 982.5,337.3 984.1,337 985.7,336.6 987.3,336.3 988.9,336.2 990.5,335.8 992.1,335.5 993.7,335.1 995.3,334.9 996.9,334.7 998.5,334.5 1000.1,334.3 1001.7,333.9 1003.3,333.6 1004.9,333.2 1006.5,332.8 1008.1,332.3 1009.7,331.8 1011.3,331.3 1012.9,330.6 1014.5,329.9 1016.1,329.2 1017.7,328.5 1019.3,327.7 1020.9,326.9 1022.5,326.1 1024.1,325.3 1025.7,324.4 1027.3,323.2 1028.9,322.1 1030.5,321 1032.1,319.8 1033.7,318.5 1035.3,317.3 1036.9,316 1038.5,314.8 1040.1,313.6 1041.7,312.6 1043.3,311.6 1044.9,310.6 1046.5,309.5 1048.1,308.5 1049.7,307.4 1051.2,306.3 1052.8,305.2 1054.4,304.1 1056,302.9 1057.6,301.6 1059.2,300.4 1060.8,299.1 1062.4,297.9 1064,296.5 1065.6,295.1 1067.2,293.7 1068.8,292.5 1070.4,291.2 1072,289.9 1073.6,288.4 1075.2,286.8 1076.8,285.2 1078.4,283.8 1080,282.5 1081.6,281.4 1083.2,280.4 1084.8,279.4 1086.4,278.5 1088,277.6 1089.6,276.6 1091.2,275.6 1092.8,274.7 1094.4,274 1096,273.3 1097.6,272.6 1099.2,272 1100.8,271.4 1102.4,270.8 1104,270.2 1105.6,269.5 1107.2,268.9 1108.8,268.4 1110.4,268.1 1112,267.7 1113.6,267.3 1115.2,266.6 1116.8,266 1118.4,265.3 1120,264.6 1121.6,263.8 1123.2,263.2 1124.8,262.6 1126.4,261.9 1128,261.3 1129.6,260.7 1131.2,260 1132.8,259.3 1134.4,258.7 1136,258 1137.6,257.3 1139.2,256.5 1140.8,255.7 1142.4,254.9 1144,254.3 1145.6,253.6 1147.2,252.8 1148.8,252 1150.4,251.3 1152,250.5 1153.6,249.8 1155.2,248.9 1156.8,248 1158.4,247.3 1160,246.6 1161.6,245.9 1163.2,245.3 1164.8,244.7 1166.4,244.3 1168,243.7 1169.6,243.2 1171.2,242.7 1172.8,242.3 1174.4,241.8 1176,241.3 1177.6,240.8 1179.2,240.2 1180.8,239.6 1182.4,238.9 1184,238.1 1185.6,237.5 1187.2,237 1188.8,236.4 1190.4,235.8 1192,235.2 1193.6,234.7 1195.2,234 1196.8,233.4 1198.4,232.8 1200,232.2 1201.6,231.5 1203.2,230.9 1204.8,230.3 1206.4,229.7 1208,229 1209.6,228.2 1211.1,227.3 1212.7,226.4 1214.3,225.4 1215.9,224.3 1217.5,223.2 1219.1,222 1220.7,220.7 1222.3,219.4 1223.9,218.2 1225.5,217 1227.1,215.8 1228.7,214.6 1230.3,213.4 1231.9,212.3 1233.5,211.2 1235.1,210.2 1236.7,209.3 1238.3,208.2 1239.9,207.1 1241.5,205.9 1243.1,204.6 1244.7,203.3 1246.3,201.9 1247.9,200.4 1249.5,199.2 1251.1,198.1 1252.7,197.1 1254.3,195.9 1255.9,194.7 1257.5,193.6 1259.1,192.5 1260.7,191.5 1262.3,190.4 1263.9,189.4 1265.5,188.5 1267.1,187.5 1268.7,186.6 1270.3,185.7 1271.9,184.9 1273.5,184.3 1275.1,183.8 1276.7,183.3 1278.3,182.8 1279.9,182.4 1281.5,181.9 1283.1,181.5 1284.7,181 1286.3,180.6 1287.9,180.2 1289.5,179.8 1291.1,179.5 1292.7,179.2 1294.3,179 1295.9,178.7 1297.5,178.5 1299.1,178.4 1300.7,178.3" fill="none" stroke="#948a54" stroke-width="1"/>
<polyline shape-rendering="crispEdges" points="11.9,362.7 13.5,362.4 15.1,362.1 16.7,361.8 18.3,361.5 19.9,361.2 21.5,360.9 23.1,360.5 24.7,360.2 26.3,359.8 27.9,359.3 29.5,358.6 31.1,358 32.7,357.5 34.3,357.2 35.9,356.8 37.5,356.4 39.1,356 40.7,355.9 42.3,355.7 43.9,355.3 45.5,354.8 47.1,354.4 48.7,353.9 50.3,353.6 51.9,353.1 53.5,352.6 55.1,352.1 56.7,351.6 58.3,351.1 59.9,350.7 61.5,350.3 63.1,350 64.7,349.7 66.3,349.3 67.9,348.9 69.5,348.5 71.1,348.2 72.7,347.8 74.3,347.5 75.9,347.3 77.5,347.3 79.1,347.2 80.7,347.2 82.3,347.3 83.9,347.3 85.5,347.4 87.1,347.5 88.7,347.4 90.3,347.4 91.8,347.5 93.4,347.6 95,347.8 96.6,348 98.2,348.4 99.8,348.7 101.4,349.1 103,349.6 104.6,350.1 106.2,350.5 107.8,350.7 109.4,350.8 111,351 112.6,351.2 114.2,351.3 115.8,351.3 117.4,351.4 119,351.5 120.6,351.8 122.2,352 123.8,352.3 125.4,352.6 127,353.1 128.6,353.6 130.2,353.9 131.8,354.3 133.4,354.7 135,355.1 136.6,355.5 138.2,356 139.8,356.6 141.4,357.5 143,358.5 144.6,359.4 146.2,360.3 147.8,360.8 149.4,361.2 151,361.6 152.6,361.7 154.2,361.4 155.8,361 157.4,360.6 159,360.3 160.6,359.8 162.2,359.3 163.8,358.8 165.4,358.3 167,357.7 168.6,357 170.2,356.3 171.8,355.5 173.4,354.9 175,354.1 176.6,353.5 178.2,352.8 179.8,352.1 181.4,351.3 183,350.3 184.6,349.3 186.2,348.1 187.8,346.9 189.4,345.8 191,344.8 192.6,343.9 194.2,343 195.8,341.8 197.4,340.9 199,340 200.6,339.5 202.2,338.8 203.8,338 205.4,336.9 207,335.7 208.6,334.6 210.2,333.4 211.8,331.9 213.4,330.4 215,328.9 216.6,327.5 218.2,326.2 219.8,325.1 221.4,324.1 223,323 224.6,322 226.2,321 227.8,320.1 229.4,319.3 231,318.7 232.6,318 234.2,317.4 235.8,316.8 237.4,316.2 239,315.5 240.6,314.8 242.2,314.1 243.8,313.4 245.4,312.8 247,312.1 248.6,311.5 250.2,310.9 251.8,310.3 253.3,309.6 254.9,308.8 256.5,308 258.1,307 259.7,306.1 261.3,305.3 262.9,304.6 264.5,304 266.1,303.6 267.7,303.3 269.3,302.7 270.9,302.1 272.5,301.5 274.1,300.9 275.7,300.4 277.3,299.9 278.9,299.3 280.5,298.6 282.1,297.9 283.7,297.1 285.3,296.4 286.9,295.7 288.5,295 290.1,294.6 291.7,294.3 293.3,293.9 294.9,293.6 296.5,293.4 298.1,293.2 299.7,293 301.3,292.6 302.9,292.2 304.5,291.7 306.1,291.2 307.7,290.8 309.3,290.1 310.9,289.4 312.5,288.8 314.1,288.2 315.7,287.7 317.3,287 318.9,286.4 320.5,285.7 322.1,285 323.7,284.4 325.3,283.9 326.9,283.5 328.5,283.1 330.1,282.7 331.7,282.2 333.3,281.6 334.9,281 336.5,280.1 338.1,279.4 339.7,278.8 341.3,278.1 342.9,277.3 344.5,276.4 346.1,275.4 347.7,274.5 349.3,273.6 350.9,272.9 352.5,272.1 354.1,271.1 355.7,270.1 357.3,269.1 358.9,268.1 360.5,267.1 362.1,266.1 363.7,265 365.3,263.8 366.9,262.6 368.5,261.2 370.1,259.8 371.7,258.3 373.3,256.8 374.9,255.4 376.5,254 378.1,252.8 379.7,251.6 381.3,250.4 382.9,249.1 384.5,247.9 386.1,246.7 387.7,245.6 389.3,244.6 390.9,243.6 392.5,242.6 394.1,241.5 395.7,240.4 397.3,239.1 398.9,237.8 400.5,236.6 402.1,235.5 403.7,234.6 405.3,233.7 406.9,232.6 408.5,231.6 410.1,230.5 411.7,229.5 413.2,228.6 414.8,227.6 416.4,226.7 418,225.7 419.6,224.7 421.2,223.8 422.8,223.1 424.4,222.5 426,221.7 427.6,221 429.2,220.2 430.8,219.4 432.4,218.7 434,217.9 435.6,217.1 437.2,216.3 438.8,215.5 440.4,214.6 442,213.8 443.6,212.9 445.2,212.1 446.8,211.2 448.4,210.3 450,209.4 451.6,208.5 453.2,207.6 454.8,206.7 456.4,205.9 458,205.1 459.6,204.5 461.2,203.9 462.8,203.1 464.4,202.3 466,201.5 467.6,200.6 469.2,199.7 470.8,198.7 472.4,197.7 474,196.5 475.6,195.4 477.2,194.3 478.8,193.2 480.4,192.1 482,191.2 483.6,190.3 485.2,189.3 486.8,188.3 488.4,187.2 490,186.2 491.6,185.2 493.2,184.4 494.8,184 496.4,183.4 498,182.6 499.6,181.9 501.2,181.2 502.8,180.7 504.4,180.1 506,179.6 507.6,179 509.2,178.3 510.8,177.5 512.4,176.7 514,175.9 515.6,175 517.2,173.9 518.8,172.6 520.4,171.3 522,170 523.6,168.8 525.2,167.6 526.8,166.4 528.4,165.3 530,164.2 531.6,163.3 533.2,162.3 534.8,161.4 536.4,160.5 538,159.8 539.6,159 541.2,158.2 542.8,157.3 544.4,156.4 546,155.5 547.6,154.5 549.2,153.7 550.8,153 552.4,152.5 554,152 555.6,151.7 557.2,151.4 558.8,151.2 560.4,151.2 562,151.5 563.6,151.7 565.2,152 566.8,152.2 568.4,153 570,153.7 571.5,154.3 573.1,154.7 574.7,154.9 576.3,155.1 577.9,155.5 579.5,155.7 581.1,155.8 582.7,155.9 584.3,156.2 585.9,156.5 587.5,156.8 589.1,157.4 590.7,157.9 592.3,158.3 593.9,158.9 595.5,159.4 597.1,159.8 598.7,160 600.3,160.3 601.9,160.5 603.5,160.6 605.1,160.6 606.7,160.3 608.3,160.1 609.9,159.9 611.5,159.6 613.1,159.2 614.7,158.9 616.3,158.1 617.9,157.3 619.5,156.7 621.1,156.3 622.7,156 624.3,155.8 625.9,155.8 627.5,155.9 629.1,156.4 630.7,157 632.3,157.5 633.9,157.9 635.5,158.3 637.1,158.7 638.7,159 640.3,159.1 641.9,159.3 643.5,159.5 645.1,160 646.7,160.3 648.3,160.7 649.9,160.9 651.5,161.4 653.1,162.2 654.7,162.5 656.3,162.8 657.9,163.3 659.5,164 661.1,165.1 662.7,166.5 664.3,168.4 665.9,170.9 667.5,172.5 669.1,174 670.7,175.2 672.3,176.6 673.9,178 675.5,179.8 677.1,181.9 678.7,183.4 680.3,184.8 681.9,186 683.5,187.1 685.1,188.2 686.7,189.4 688.3,190.2 689.9,190.6 691.5,191.1 693.1,191.5 694.7,191.8 696.3,192.1 697.9,192.3 699.5,192.6 701.1,192.8 702.7,192.9 704.3,193.1 705.9,193.1 707.5,193.3 709.1,193.5 710.7,193.8 712.3,194.2 713.9,194.7 715.5,195.1 717.1,195.5 718.7,195.9 720.3,196.3 721.9,196.8 723.5,197.4 725.1,198 726.7,198.7 728.3,199.5 729.9,200.7 731.4,202 733,203.4 734.6,204.8 736.2,206.3 737.8,207.9 739.4,209.6 741,211.6 742.6,213.5 744.2,215.5 745.8,217.4 747.4,219.3 749,221 750.6,222.5 752.2,223.8 753.8,225.1 755.4,226.6 757,227.9 758.6,229 760.2,230.1 761.8,231.2 763.4,232.3 765,233.3 766.6,234.2 768.2,235.1 769.8,235.9 771.4,236.9 773,237.8 774.6,238.8 776.2,239.7 777.8,240.7 779.4,241.8 781,243.2 782.6,244.8 784.2,246.5 785.8,248 787.4,249.4 789,250.9 790.6,252.2 792.2,253.7 793.8,255.2 795.4,256.5 797,257.7 798.6,258.7 800.2,259.8 801.8,260.9 803.4,262.1 805,263.4 806.6,264.7 808.2,265.8 809.8,266.8 811.4,267.7 813,268.7 814.6,269.8 816.2,271.1 817.8,272.4 819.4,273.6 821,274.6 822.6,275.5 824.2,276.4 825.8,277.2 827.4,278 829,278.7 830.6,279.7 832.2,280.4 833.8,281.2 835.4,281.7 837,282.1 838.6,282.6 840.2,283.2 841.8,283.7 843.4,284.3 845,284.7 846.6,285.1 848.2,285.5 849.8,285.7 851.4,285.9 853,286.1 854.6,286.5 856.2,286.9 857.8,287.3 859.4,288 861,288.7 862.6,289.4 864.2,290.2 865.8,291.2 867.4,292.2 869,293.4 870.6,294.8 872.2,296.2 873.8,297.6 875.4,299.1 877,300.5 878.6,301.7 880.2,302.9 881.8,303.8 883.4,304.5 885,305.5 886.6,306.4 888.2,307.3 889.8,308.4 891.3,309.4 892.9,310.4 894.5,311.5 896.1,312.7 897.7,314 899.3,315.4 900.9,316.9 902.5,318.4 904.1,319.9 905.7,321.4 907.3,322.8 908.9,323.9 910.5,324.9 912.1,326.1 913.7,327.4 915.3,328.8 916.9,330.2 918.5,331.5 920.1,332.6 921.7,333.6 923.3,334.5 924.9,335.5 926.5,336.5 928.1,337.5 929.7,338.3 931.3,339.2 932.9,339.8 934.5,340.2 936.1,340.5 937.7,340.8 939.3,340.8 940.9,340.8 942.5,340.7 944.1,340.4 945.7,340.1 947.3,339.6 948.9,339.1 950.5,338.2 952.1,337.2 953.7,336.5 955.3,335.9 956.9,335.4 958.5,334.8 960.1,334.1 961.7,333.4 963.3,332.6 964.9,331.8 966.5,331.1 968.1,330.3 969.7,329.5 971.3,328.7 972.9,327.8 974.5,327.1 976.1,326.4 977.7,325.8 979.3,325.3 980.9,324.7 982.5,324.1 984.1,323.2 985.7,322.4 987.3,321.8 988.9,321.3 990.5,320.7 992.1,320.1 993.7,319.3 995.3,318.5 996.9,317.9 998.5,317.3 1000.1,316.6 1001.7,315.9 1003.3,315.1 1004.9,314.1 1006.5,313.1 1008.1,312 1009.7,310.7 1011.3,309.4 1012.9,307.9 1014.5,306.4 1016.1,305 1017.7,303.7 1019.3,302.5 1020.9,301.3 1022.5,300.2 1024.1,299.2 1025.7,298.1 1027.3,296.8 1028.9,295.7 1030.5,294.8 1032.1,293.7 1033.7,292.7 1035.3,291.8 1036.9,290.9 1038.5,289.9 1040.1,289 1041.7,288.1 1043.3,287.2 1044.9,286.4 1046.5,285.6 1048.1,284.9 1049.7,284.3 1051.2,283.7 1052.8,283.1 1054.4,282.4 1056,281.8 1057.6,281.2 1059.2,280.8 1060.8,280.5 1062.4,280.2 1064,279.8 1065.6,279.3 1067.2,278.8 1068.8,278.3 1070.4,277.7 1072,277.2 1073.6,276.5 1075.2,275.8 1076.8,275.1 1078.4,274.6 1080,274.4 1081.6,274.4 1083.2,274.5 1084.8,274.6 1086.4,275 1088,275.4 1089.6,275.5 1091.2,275.6 1092.8,275.7 1094.4,276 1096,276.3 1097.6,276.5 1099.2,276.6 1100.8,276.6 1102.4,276.5 1104,276.3 1105.6,276 1107.2,275.6 1108.8,275.3 1110.4,275 1112,274.6 1113.6,274.2 1115.2,273.6 1116.8,273 1118.4,272.3 1120,271.4 1121.6,270.5 1123.2,269.6 1124.8,268.8 1126.4,268.1 1128,267.3 1129.6,266.6 1131.2,265.7 1132.8,264.7 1134.4,263.9 1136,263.2 1137.6,262.4 1139.2,261.5 1140.8,260.6 1142.4,259.7 1144,258.9 1145.6,258 1147.2,257.1 1148.8,256.3 1150.4,255.5 1152,254.6 1153.6,253.7 1155.2,252.6 1156.8,251.5 1158.4,250.7 1160,250.1 1161.6,249.3 1163.2,248.5 1164.8,247.8 1166.4,247.2 1168,246.3 1169.6,245.3 1171.2,244.2 1172.8,243.1 1174.4,242.1 1176,241 1177.6,239.9 1179.2,238.8 1180.8,237.7 1182.4,236.5 1184,235.2 1185.6,234 1187.2,233 1188.8,232 1190.4,231.1 1192,230.3 1193.6,229.5 1195.2,228.5 1196.8,227.6 1198.4,226.7 1200,225.7 1201.6,224.7 1203.2,223.9 1204.8,223.2 1206.4,222.5 1208,221.6 1209.6,220.7 1211.1,219.6 1212.7,218.4 1214.3,217 1215.9,215.6 1217.5,214.2 1219.1,212.6 1220.7,211.1 1222.3,209.7 1223.9,208.2 1225.5,206.8 1227.1,205.3 1228.7,204 1230.3,202.6 1231.9,201.2 1233.5,199.9 1235.1,198.8 1236.7,197.8 1238.3,196.7 1239.9,195.7 1241.5,194.9 1243.1,194.1 1244.7,193.1 1246.3,192.3 1247.9,191.5 1249.5,191 1251.1,190.6 1252.7,190.3 1254.3,189.9 1255.9,189.6 1257.5,189.3 1259.1,189 1260.7,188.6 1262.3,188.2 1263.9,187.8 1265.5,187.3 1267.1,186.8 1268.7,186.5 1270.3,186.1 1271.9,185.9 1273.5,186.1 1275.1,186.2 1276.7,186.3 1278.3,186.3 1279.9,186.3 1281.5,186.2 1283.1,186.1 1284.7,186.1 1286.3,186.1 1287.9,186.2 1289.5,186.3 1291.1,186.4 1292.7,186.5 1294.3,186.7 1295.9,186.9 1297.5,187.3 1299.1,187.7 1300.7,188" fill="none" stroke="#f79646" stroke-width="1"/>
<polyline shape-rendering="crispEdges" points="11.9,364.4 13.5,363.7 15.1,363 16.7,362.4 18.3,361.9 19.9,361.2 21.5,360.5 23.1,359.9 24.7,359.3 26.3,358.5 27.9,357.5 29.5,356.2 31.1,355.1 32.7,354.3 34.3,353.8 35.9,353.1 37.5,352.5 39.1,351.9 40.7,351.9 42.3,351.6 43.9,350.9 45.5,350.2 47.1,349.5 48.7,348.8 50.3,348.3 51.9,347.5 53.5,346.8 55.1,346.1 56.7,345.3 58.3,344.6 59.9,344 61.5,343.5 63.1,343.1 64.7,342.8 66.3,342.4 67.9,341.8 69.5,341.3 71.1,340.9 72.7,340.5 74.3,340.1 75.9,340.1 77.5,340.2 79.1,340.4 80.7,340.7 82.3,341.1 83.9,341.3 85.5,341.8 87.1,342.1 88.7,342.2 90.3,342.4 91.8,342.7 93.4,343.2 95,343.8 96.6,344.3 98.2,345.2 99.8,346 101.4,346.9 103,348 104.6,349 106.2,349.9 107.8,350.2 109.4,350.5 111,350.8 112.6,351.3 114.2,351.5 115.8,351.5 117.4,351.7 119,351.8 120.6,352.4 122.2,352.8 123.8,353.4 125.4,354 127,354.8 128.6,355.7 130.2,356.3 131.8,356.9 133.4,357.6 135,358.3 136.6,359 138.2,359.9 139.8,360.8 141.4,362.5 143,364.3 144.6,365.9 146.2,367.3 147.8,368.1 149.4,368.7 151,369 152.6,369 154.2,368.2 155.8,367.1 157.4,366.1 159,365.2 160.6,364.1 162.2,363 163.8,361.8 165.4,360.6 167,359.4 168.6,357.9 170.2,356.5 171.8,355 173.4,353.7 175,352.2 176.6,351.2 178.2,349.7 179.8,348.5 181.4,347.1 183,345.4 184.6,343.4 186.2,341.4 187.8,339.2 189.4,337.4 191,335.8 192.6,334.3 194.2,332.8 195.8,331 197.4,329.5 199,328.2 200.6,327.8 202.2,326.8 203.8,325.6 205.4,323.9 207,322.1 208.6,320.4 210.2,318.5 211.8,316.3 213.4,313.9 215,311.5 216.6,309.4 218.2,307.6 219.8,306.1 221.4,304.8 223,303.5 224.6,302.3 226.2,301 227.8,300.1 229.4,299.3 231,298.8 232.6,298.3 234.2,297.9 235.8,297.4 237.4,297.1 239,296.4 240.6,295.7 242.2,295.1 243.8,294.5 245.4,294 247,293.4 248.6,292.9 250.2,292.5 251.8,291.9 253.3,291.3 254.9,290.5 256.5,289.6 258.1,288.3 259.7,287.2 261.3,286.4 262.9,285.7 264.5,285.2 266.1,285.3 267.7,285.4 269.3,284.9 270.9,284.4 272.5,283.9 274.1,283.4 275.7,283 277.3,282.8 278.9,282.3 280.5,281.6 282.1,280.8 283.7,279.9 285.3,279.1 286.9,278.5 288.5,277.8 290.1,277.6 291.7,277.7 293.3,277.7 294.9,277.7 296.5,277.8 298.1,278.1 299.7,278.3 301.3,278.1 302.9,277.8 304.5,277.4 306.1,277.1 307.7,276.7 309.3,275.9 310.9,275.1 312.5,274.5 314.1,273.9 315.7,273.3 317.3,272.7 318.9,271.9 320.5,271.1 322.1,270.3 323.7,269.8 325.3,269.4 326.9,269.1 328.5,268.9 330.1,268.5 331.7,268.1 333.3,267.5 334.9,266.9 336.5,265.7 338.1,264.8 339.7,264.2 341.3,263.3 342.9,262.4 344.5,261.2 346.1,259.7 347.7,258.6 349.3,257.6 350.9,256.7 352.5,255.7 354.1,254.5 355.7,253 357.3,251.7 358.9,250.5 360.5,249.2 362.1,247.9 363.7,246.4 365.3,244.9 366.9,243.2 368.5,241.2 370.1,239.1 371.7,237 373.3,234.9 374.9,233 376.5,231.2 378.1,229.6 379.7,228.2 381.3,226.6 382.9,225.1 384.5,223.5 386.1,222.1 387.7,220.9 389.3,219.9 390.9,219 392.5,218 394.1,216.8 395.7,215.4 397.3,213.9 398.9,212.3 400.5,211 402.1,209.8 403.7,209 405.3,208.1 406.9,207.1 408.5,206 410.1,204.8 411.7,203.9 413.2,203 414.8,202.2 416.4,201.3 418,200.3 419.6,199.4 421.2,198.7 422.8,198.2 424.4,198 426,197.5 427.6,196.9 429.2,196.2 430.8,195.7 432.4,195.2 434,194.6 435.6,193.9 437.2,193.2 438.8,192.5 440.4,191.7 442,190.9 443.6,190.1 445.2,189.3 446.8,188.5 448.4,187.7 450,186.8 451.6,185.9 453.2,184.9 454.8,184.1 456.4,183.3 458,182.7 459.6,182.2 461.2,181.9 462.8,181.3 464.4,180.6 466,179.8 467.6,178.9 469.2,178 470.8,176.9 472.4,175.6 474,174.3 475.6,172.9 477.2,171.6 478.8,170.3 480.4,169.1 482,168.1 483.6,167.2 485.2,166.2 486.8,165.1 488.4,163.9 490,162.8 491.6,161.8 493.2,161 494.8,161.1 496.4,160.8 498,160.2 499.6,159.6 501.2,159.2 502.8,159 504.4,158.7 506,158.5 507.6,158.2 509.2,157.7 510.8,156.8 512.4,156 514,155.2 515.6,154.3 517.2,153 518.8,151.2 520.4,149.5 522,147.8 523.6,146.2 525.2,144.7 526.8,143.3 528.4,142 530,140.8 531.6,139.9 533.2,138.9 534.8,138 536.4,137.1 538,136.5 539.6,136 541.2,135.2 542.8,134.3 544.4,133.5 546,132.5 547.6,131.4 549.2,130.8 550.8,130.4 552.4,130.2 554,130.2 555.6,130.3 557.2,130.6 558.8,131.1 560.4,131.9 562,133.1 563.6,134.4 565.2,135.5 566.8,136.7 568.4,138.7 570,140.8 571.5,142.6 573.1,143.6 574.7,144.6 576.3,145.4 577.9,146.5 579.5,147.2 581.1,147.8 582.7,148.4 584.3,149.3 585.9,150.1 587.5,150.9 589.1,152.3 590.7,153.4 592.3,154.5 593.9,155.9 595.5,157 597.1,157.8 598.7,158.4 600.3,158.9 601.9,159.4 603.5,159.6 605.1,159.6 606.7,159.2 608.3,158.8 609.9,158.4 611.5,157.9 613.1,157.3 614.7,156.6 616.3,155.1 617.9,153.6 619.5,152.7 621.1,151.9 622.7,151.5 624.3,151.4 625.9,151.5 627.5,152 629.1,153 630.7,154.4 632.3,155.4 633.9,156.3 635.5,157.1 637.1,158 638.7,158.6 640.3,158.8 641.9,159.3 643.5,159.6 645.1,160.6 646.7,161.3 648.3,161.9 649.9,162.4 651.5,163.3 653.1,164.7 654.7,165.3 656.3,165.8 657.9,166.5 659.5,168 661.1,170 662.7,172.4 664.3,176 665.9,180.7 667.5,183.5 669.1,185.9 670.7,187.9 672.3,190.2 673.9,192.3 675.5,195.4 677.1,198.9 678.7,201.2 680.3,203.4 681.9,204.9 683.5,206.4 685.1,207.9 686.7,209.4 688.3,210.2 689.9,210.3 691.5,210.4 693.1,210.4 694.7,210.5 696.3,210.2 697.9,210 699.5,209.7 701.1,209.5 702.7,209.2 704.3,208.7 705.9,208.2 707.5,207.9 709.1,207.8 710.7,207.8 712.3,208.1 713.9,208.5 715.5,208.8 717.1,209 718.7,209.3 720.3,209.6 721.9,210.2 723.5,210.7 725.1,211.4 726.7,212.2 728.3,213.4 729.9,215.2 731.4,217.1 733,219.3 734.6,221.5 736.2,223.8 737.8,226.2 739.4,228.9 741,232.1 742.6,235.2 744.2,238.2 745.8,241.2 747.4,243.9 749,246.3 750.6,248.2 752.2,249.9 753.8,251.4 755.4,253.3 757,254.9 758.6,256.1 760.2,257.1 761.8,258.3 763.4,259.4 765,260.4 766.6,261 768.2,261.6 769.8,262.3 771.4,263.2 773,264 774.6,264.9 776.2,265.7 777.8,266.6 779.4,267.9 781,269.6 782.6,271.8 784.2,273.9 785.8,275.8 787.4,277.6 789,279.4 790.6,280.9 792.2,282.8 793.8,284.5 795.4,286.1 797,287.2 798.6,288 800.2,289 801.8,290 803.4,291.4 805,292.8 806.6,294.2 808.2,295.1 809.8,296 811.4,296.6 813,297.5 814.6,298.6 816.2,299.9 817.8,301.5 819.4,302.6 821,303.5 822.6,304.3 824.2,304.8 825.8,305.2 827.4,305.7 829,306.1 830.6,306.9 832.2,307.4 833.8,307.9 835.4,307.8 837,307.6 838.6,307.5 840.2,307.7 841.8,307.8 843.4,308 845,307.8 846.6,307.7 848.2,307.6 849.8,307.2 851.4,306.7 853,306.4 854.6,306.3 856.2,306.3 857.8,306.4 859.4,307.1 861,307.7 862.6,308.4 864.2,309.2 865.8,310.3 867.4,311.6 869,313.3 870.6,315.1 872.2,317.2 873.8,319.2 875.4,321.2 877,323.1 878.6,324.7 880.2,326.1 881.8,327 883.4,327.6 885,328.5 886.6,329.5 888.2,330.3 889.8,331.5 891.3,332.7 892.9,333.8 894.5,335 896.1,336.4 897.7,338.1 899.3,340 900.9,341.9 902.5,343.9 904.1,346 905.7,347.8 907.3,349.6 908.9,350.6 910.5,351.6 912.1,353 913.7,354.5 915.3,356.2 916.9,357.9 918.5,359.3 920.1,360.5 921.7,361.4 923.3,362.1 924.9,362.9 926.5,363.9 928.1,364.7 929.7,365.4 931.3,365.9 932.9,366.1 934.5,365.9 936.1,365.6 937.7,365.1 939.3,364.2 940.9,363.2 942.5,362.1 944.1,360.7 945.7,359.3 947.3,357.6 948.9,355.9 950.5,353.4 952.1,350.9 953.7,348.9 955.3,347.3 956.9,345.8 958.5,344.1 960.1,342.4 961.7,340.7 963.3,338.8 964.9,337 966.5,335.4 968.1,333.6 969.7,332 971.3,330.2 972.9,328.6 974.5,327 976.1,325.7 977.7,324.5 979.3,323.5 980.9,322.4 982.5,321.3 984.1,319.7 985.7,318.2 987.3,317.1 988.9,316.3 990.5,315.3 992.1,314.3 993.7,313 995.3,311.7 996.9,310.8 998.5,309.8 1000.1,308.8 1001.7,307.7 1003.3,306.4 1004.9,304.8 1006.5,303.1 1008.1,301.4 1009.7,299.3 1011.3,297.1 1012.9,294.5 1014.5,292.1 1016.1,289.9 1017.7,288 1019.3,286.2 1020.9,284.6 1022.5,283 1024.1,281.6 1025.7,280.1 1027.3,278.2 1028.9,276.8 1030.5,275.7 1032.1,274.5 1033.7,273.2 1035.3,272.2 1036.9,271 1038.5,269.9 1040.1,268.8 1041.7,267.9 1043.3,267 1044.9,266.2 1046.5,265.4 1048.1,264.8 1049.7,264.4 1051.2,264 1052.8,263.5 1054.4,262.9 1056,262.5 1057.6,262.2 1059.2,262 1060.8,262.2 1062.4,262.3 1064,262.2 1065.6,262 1067.2,261.7 1068.8,261.3 1070.4,260.8 1072,260.5 1073.6,259.7 1075.2,258.9 1076.8,258.3 1078.4,257.9 1080,258.1 1081.6,258.8 1083.2,259.6 1084.8,260.5 1086.4,261.7 1088,263 1089.6,263.8 1091.2,264.4 1092.8,265.1 1094.4,266 1096,267 1097.6,267.8 1099.2,268.3 1100.8,268.7 1102.4,268.8 1104,268.7 1105.6,268.3 1107.2,267.9 1108.8,267.6 1110.4,267.3 1112,266.9 1113.6,266.3 1115.2,265.4 1116.8,264.5 1118.4,263.5 1120,262.1 1121.6,260.6 1123.2,259.2 1124.8,258.2 1126.4,257.2 1128,256.1 1129.6,255.1 1131.2,253.6 1132.8,252.2 1134.4,251.1 1136,250.2 1137.6,249.1 1139.2,248 1140.8,246.6 1142.4,245.4 1144,244.3 1145.6,243.2 1147.2,242.1 1148.8,241 1150.4,240 1152,238.9 1153.6,237.6 1155.2,236.1 1156.8,234.6 1158.4,233.7 1160,233.1 1161.6,232.2 1163.2,231.3 1164.8,230.6 1166.4,230.1 1168,229 1169.6,227.7 1171.2,226.2 1172.8,224.8 1174.4,223.4 1176,221.9 1177.6,220.5 1179.2,219.1 1180.8,217.7 1182.4,216.1 1184,214.3 1185.6,212.8 1187.2,211.7 1188.8,210.6 1190.4,209.6 1192,208.9 1193.6,208.1 1195.2,207 1196.8,206 1198.4,205 1200,203.9 1201.6,202.9 1203.2,202.1 1204.8,201.6 1206.4,200.9 1208,200.1 1209.6,199.1 1211.1,197.8 1212.7,196.3 1214.3,194.5 1215.9,192.6 1217.5,190.6 1219.1,188.4 1220.7,186.3 1222.3,184.5 1223.9,182.6 1225.5,180.7 1227.1,178.9 1228.7,177.2 1230.3,175.5 1231.9,173.9 1233.5,172.4 1235.1,171.2 1236.7,170.3 1238.3,169.2 1239.9,168.4 1241.5,167.9 1243.1,167.4 1244.7,166.5 1246.3,165.9 1247.9,165.4 1249.5,165.3 1251.1,165.5 1252.7,165.9 1254.3,166.2 1255.9,166.4 1257.5,166.8 1259.1,167 1260.7,167.2 1262.3,167.2 1263.9,167.2 1265.5,167 1267.1,166.9 1268.7,167 1270.3,167 1271.9,167.3 1273.5,168.4 1275.1,169.3 1276.7,170.2 1278.3,170.9 1279.9,171.4 1281.5,171.8 1283.1,172.3 1284.7,172.7 1286.3,173.2 1287.9,174 1289.5,174.6 1291.1,175.2 1292.7,175.9 1294.3,176.8 1295.9,177.6 1297.5,178.6 1299.1,179.8 1300.7,180.7" fill="none" stroke="#77933c" stroke-width="1"/>
<polyline shape-rendering="crispEdges" points="11.9,374.5 13.5,373.3 15.1,372.1 16.7,370.8 18.3,369.6 19.9,368.2 21.5,366.8 23.1,365.4 24.7,364 26.3,362.5 27.9,361 29.5,359.2 31.1,357.7 32.7,356.2 34.3,354.9 35.9,353.5 37.5,352.2 39.1,350.9 40.7,349.9 42.3,348.8 43.9,347.7 45.5,346.5 47.1,345.5 48.7,344.6 50.3,343.8 51.9,343 53.5,342.4 55.1,341.8 56.7,341.2 58.3,340.8 59.9,340.6 61.5,340.5 63.1,340.4 64.7,340.3 66.3,340.1 67.9,339.8 69.5,339.5 71.1,339.2 72.7,339 74.3,338.6 75.9,338.4 77.5,338.3 79.1,338.1 80.7,338 82.3,337.9 83.9,337.8 85.5,337.8 87.1,337.9 88.7,337.9 90.3,338.1 91.8,338.3 93.4,338.4 95,338.6 96.6,338.8 98.2,339.2 99.8,339.6 101.4,340.1 103,340.7 104.6,341.3 106.2,341.9 107.8,342.4 109.4,343.1 111,343.7 112.6,344.3 114.2,344.6 115.8,344.9 117.4,345.3 119,345.6 120.6,345.9 122.2,346.3 123.8,346.9 125.4,347.7 127,348.5 128.6,349.4 130.2,350.2 131.8,351 133.4,351.9 135,352.8 136.6,353.9 138.2,355 139.8,356 141.4,357.5 143,359 144.6,360.4 146.2,361.8 147.8,362.9 149.4,364 151,365 152.6,365.7 154.2,366.1 155.8,366.1 157.4,366 159,366 160.6,365.8 162.2,365.5 163.8,365.2 165.4,364.8 167,364.3 168.6,363.9 170.2,363.4 171.8,362.7 173.4,362.1 175,361.3 176.6,360.6 178.2,359.6 179.8,358.6 181.4,357.5 183,356 184.6,354.5 186.2,352.9 187.8,351.4 189.4,350.2 191,348.9 192.6,347.6 194.2,346.5 195.8,345.1 197.4,343.9 199,342.7 200.6,341.7 202.2,340.4 203.8,339.1 205.4,337.4 207,335.4 208.6,333.4 210.2,331.4 211.8,329.2 213.4,326.9 215,324.4 216.6,322 218.2,319.7 219.8,317.4 221.4,314.8 223,312 224.6,309.4 226.2,306.7 227.8,304.6 229.4,302.5 231,300.7 232.6,299 234.2,297.8 235.8,296.7 237.4,295.7 239,294.4 240.6,293.2 242.2,292.1 243.8,291.1 245.4,290.1 247,289.1 248.6,288.2 250.2,287.5 251.8,286.7 253.3,285.8 254.9,284.8 256.5,283.7 258.1,282.5 259.7,281.4 261.3,280.4 262.9,279.8 264.5,279.3 266.1,279.2 267.7,279.2 269.3,278.8 270.9,278.4 272.5,277.8 274.1,277.3 275.7,277.1 277.3,276.7 278.9,276.3 280.5,275.2 282.1,274.4 283.7,273.6 285.3,273.1 286.9,272.8 288.5,272.5 290.1,272.5 291.7,272.8 293.3,273.3 294.9,273.8 296.5,274.2 298.1,274.7 299.7,275 301.3,275 302.9,274.9 304.5,274.9 306.1,274.8 307.7,274.6 309.3,274.1 310.9,273.6 312.5,273 314.1,272.5 315.7,271.9 317.3,271.3 318.9,270.8 320.5,270.2 322.1,269.6 323.7,269.1 325.3,268.7 326.9,268.4 328.5,268.1 330.1,267.6 331.7,267.2 333.3,266.7 334.9,266.3 336.5,265.7 338.1,265.4 339.7,265.2 341.3,264.7 342.9,264.1 344.5,263.3 346.1,262 347.7,260.9 349.3,260.1 350.9,259.4 352.5,258.6 354.1,257.6 355.7,256.5 357.3,255.4 358.9,254.3 360.5,253.4 362.1,252.5 363.7,251.5 365.3,250.5 366.9,249.3 368.5,247.9 370.1,246.2 371.7,244.3 373.3,242.5 374.9,240.6 376.5,238.7 378.1,236.9 379.7,235 381.3,233.3 382.9,231.7 384.5,230 386.1,228.4 387.7,226.9 389.3,225.7 390.9,224.5 392.5,223.2 394.1,221.7 395.7,220.2 397.3,218.5 398.9,216.9 400.5,215.5 402.1,214.1 403.7,212.8 405.3,211.3 406.9,209.7 408.5,208 410.1,206.3 411.7,204.8 413.2,203.4 414.8,202 416.4,200.8 418,199.5 419.6,198.1 421.2,196.8 422.8,195.8 424.4,195 426,194.2 427.6,193.2 429.2,192.2 430.8,191.2 432.4,190.2 434,189.3 435.6,188.4 437.2,187.6 438.8,186.7 440.4,185.8 442,184.9 443.6,184.1 445.2,183.4 446.8,182.7 448.4,182.2 450,181.7 451.6,181.3 453.2,180.9 454.8,180.4 456.4,180 458,179.5 459.6,179.1 461.2,178.8 462.8,178.3 464.4,177.9 466,177.3 467.6,176.7 469.2,175.9 470.8,174.9 472.4,173.9 474,173 475.6,172.2 477.2,171.5 478.8,170.7 480.4,170 482,169.2 483.6,168.3 485.2,167.4 486.8,166.6 488.4,165.7 490,164.9 491.6,164 493.2,163.2 494.8,162.8 496.4,162.3 498,161.7 499.6,161.1 501.2,160.4 502.8,159.8 504.4,159 506,158.3 507.6,157.7 509.2,157 510.8,156 512.4,155.1 514,154.2 515.6,153.4 517.2,152.3 518.8,150.9 520.4,149.6 522,148.3 523.6,147 525.2,145.8 526.8,144.6 528.4,143.4 530,142.4 531.6,141.4 533.2,140.5 534.8,139.6 536.4,138.6 538,137.7 539.6,136.7 541.2,135.5 542.8,134.5 544.4,133.5 546,132.4 547.6,131.4 549.2,130.6 550.8,130 552.4,129.6 554,129.4 555.6,129.3 557.2,129.2 558.8,129.3 560.4,129.6 562,130 563.6,130.3 565.2,130.8 566.8,131.3 568.4,132.4 570,133.5 571.5,134.5 573.1,135 574.7,135.1 576.3,135.4 577.9,135.9 579.5,136.3 581.1,136.6 582.7,136.8 584.3,137.1 585.9,137.5 587.5,137.9 589.1,138.7 590.7,139.6 592.3,140.5 593.9,141.6 595.5,142.6 597.1,143.8 598.7,145.1 600.3,146.4 601.9,147.7 603.5,148.8 605.1,149.8 606.7,150.7 608.3,151.4 609.9,152.2 611.5,152.7 613.1,153.3 614.7,153.8 616.3,153.8 617.9,153.7 619.5,153.9 621.1,154.2 622.7,154.8 624.3,155.5 625.9,156.4 627.5,157.6 629.1,158.8 630.7,160.2 632.3,161.3 633.9,162.2 635.5,163.1 637.1,164 638.7,164.6 640.3,164.8 641.9,165 643.5,165.1 645.1,165.4 646.7,165.7 648.3,165.5 649.9,165.1 651.5,165.1 653.1,165.7 654.7,165.9 656.3,166.2 657.9,166.4 659.5,167.2 661.1,168.3 662.7,169.7 664.3,171.6 665.9,174.1 667.5,175.7 669.1,176.9 670.7,178 672.3,179.3 673.9,180.4 675.5,182.2 677.1,184.3 678.7,186 680.3,187.7 681.9,189.1 683.5,190.7 685.1,192.3 686.7,194.3 688.3,195.9 689.9,197.2 691.5,198.6 693.1,199.9 694.7,201.4 696.3,203.1 697.9,204.8 699.5,206.3 701.1,207.7 702.7,208.9 704.3,209.9 705.9,210.7 707.5,211.5 709.1,212 710.7,212.4 712.3,213.1 713.9,213.9 715.5,214.7 717.1,215.4 718.7,216.2 720.3,217.3 721.9,218.3 723.5,219.5 725.1,220.3 726.7,221.4 728.3,222.7 729.9,224.4 731.4,226 733,227.5 734.6,229.4 736.2,231.4 737.8,233.4 739.4,235.3 741,237.1 742.6,238.6 744.2,239.6 745.8,240 747.4,241.2 749,242.3 750.6,243.5 752.2,244.4 753.8,245.3 755.4,245.9 757,246.1 758.6,246.6 760.2,247.1 761.8,248 763.4,248.9 765,249.7 766.6,250.3 768.2,251.2 769.8,252.6 771.4,254 773,255.5 774.6,257 776.2,258.6 777.8,260.3 779.4,262.2 781,264.3 782.6,266.8 784.2,269.4 785.8,272 787.4,274.4 789,276.7 790.6,278.9 792.2,281.2 793.8,283.4 795.4,285.5 797,287.6 798.6,289.4 800.2,291.3 801.8,293.1 803.4,295.1 805,297.1 806.6,299 808.2,300.6 809.8,301.7 811.4,302.6 813,303.6 814.6,304.6 816.2,305.6 817.8,306.7 819.4,307.4 821,307.8 822.6,308 824.2,308.1 825.8,308.1 827.4,308.2 829,308.5 830.6,309.1 832.2,309.7 833.8,310.3 835.4,310.4 837,310.6 838.6,311 840.2,311.6 841.8,312.1 843.4,312.6 845,313 846.6,313.5 848.2,314.1 849.8,314.4 851.4,314.7 853,314.9 854.6,315.3 856.2,315.7 857.8,316.1 859.4,316.6 861,316.8 862.6,316.8 864.2,316.9 865.8,317.2 867.4,317.6 869,318.3 870.6,319.1 872.2,319.9 873.8,320.7 875.4,321.6 877,322.7 878.6,323.8 880.2,324.8 881.8,325.5 883.4,325.8 885,326.3 886.6,326.8 888.2,327.4 889.8,328.3 891.3,329.3 892.9,330.2 894.5,330.9 896.1,331.7 897.7,332.5 899.3,333.6 900.9,334.9 902.5,336.3 904.1,337.9 905.7,339.4 907.3,340.9 908.9,342.1 910.5,343.1 912.1,344.5 913.7,345.9 915.3,347.7 916.9,349.7 918.5,351.4 920.1,353 921.7,354.5 923.3,355.8 924.9,357.4 926.5,359.1 928.1,360.6 929.7,362.3 931.3,364 932.9,365.4 934.5,366.6 936.1,367.6 937.7,368.5 939.3,368.9 940.9,369.2 942.5,369.4 944.1,369.3 945.7,369.1 947.3,368.5 948.9,367.7 950.5,366.4 952.1,364.8 953.7,363.4 955.3,362.2 956.9,361 958.5,359.7 960.1,358.6 961.7,357.6 963.3,356.6 964.9,355.4 966.5,354.2 968.1,353.1 969.7,351.6 971.3,350.2 972.9,348.7 974.5,347.2 976.1,345.6 977.7,344 979.3,342.2 980.9,340.3 982.5,338.4 984.1,336.1 985.7,333.8 987.3,331.8 988.9,330.2 990.5,328.5 992.1,326.5 993.7,324.3 995.3,322 996.9,319.8 998.5,317.6 1000.1,315.5 1001.7,313.4 1003.3,311.3 1004.9,309 1006.5,306.5 1008.1,303.9 1009.7,301.3 1011.3,298.6 1012.9,295.8 1014.5,293.2 1016.1,290.8 1017.7,288.6 1019.3,286.6 1020.9,284.6 1022.5,282.9 1024.1,281.3 1025.7,279.7 1027.3,278 1028.9,276.5 1030.5,275.7 1032.1,274.7 1033.7,273.6 1035.3,272.4 1036.9,271.1 1038.5,269.8 1040.1,268.7 1041.7,267.6 1043.3,266.6 1044.9,265.7 1046.5,264.7 1048.1,263.9 1049.7,263.2 1051.2,262.5 1052.8,261.8 1054.4,260.9 1056,260.1 1057.6,259.3 1059.2,258.5 1060.8,257.9 1062.4,257.3 1064,256.9 1065.6,256.4 1067.2,255.7 1068.8,254.8 1070.4,253.9 1072,253.2 1073.6,252.4 1075.2,251.6 1076.8,250.7 1078.4,250 1080,249.5 1081.6,249.4 1083.2,249.5 1084.8,249.8 1086.4,250.5 1088,251.2 1089.6,251.9 1091.2,252.6 1092.8,253.6 1094.4,254.7 1096,255.8 1097.6,256.7 1099.2,257.5 1100.8,258.2 1102.4,258.7 1104,259.1 1105.6,259.4 1107.2,259.9 1108.8,260.3 1110.4,260.5 1112,260.7 1113.6,260.9 1115.2,260.9 1116.8,260.9 1118.4,260.8 1120,260.5 1121.6,260.1 1123.2,259.7 1124.8,259.4 1126.4,259.2 1128,258.7 1129.6,258.2 1131.2,257.6 1132.8,256.9 1134.4,256.4 1136,255.9 1137.6,255.3 1139.2,254.5 1140.8,253.4 1142.4,252.4 1144,251.6 1145.6,250.8 1147.2,250 1148.8,249.3 1150.4,248.6 1152,247.8 1153.6,247.1 1155.2,246.3 1156.8,245.4 1158.4,244.6 1160,243.7 1161.6,242.5 1163.2,241 1164.8,239.6 1166.4,238.2 1168,236.3 1169.6,234.6 1171.2,232.8 1172.8,230.9 1174.4,228.9 1176,226.8 1177.6,224.8 1179.2,222.9 1180.8,220.9 1182.4,219.1 1184,217.2 1185.6,215.5 1187.2,214 1188.8,212.5 1190.4,211 1192,209.7 1193.6,208.5 1195.2,207.2 1196.8,206 1198.4,204.8 1200,203.8 1201.6,202.9 1203.2,202 1204.8,201.2 1206.4,200.2 1208,199.2 1209.6,198.1 1211.1,197.1 1212.7,195.9 1214.3,194.4 1215.9,192.7 1217.5,191.1 1219.1,189.5 1220.7,187.9 1222.3,186.4 1223.9,184.8 1225.5,183.1 1227.1,181.5 1228.7,179.9 1230.3,178.3 1231.9,176.8 1233.5,175.3 1235.1,174.2 1236.7,173.2 1238.3,171.8 1239.9,170.4 1241.5,169.3 1243.1,168.2 1244.7,166.9 1246.3,165.5 1247.9,164.6 1249.5,163.9 1251.1,163.5 1252.7,163.2 1254.3,162.9 1255.9,162.7 1257.5,162.5 1259.1,162.2 1260.7,162 1262.3,161.8 1263.9,161.7 1265.5,161.4 1267.1,161 1268.7,160.7 1270.3,160.4 1271.9,160.1 1273.5,160.2 1275.1,160.4 1276.7,160.6 1278.3,160.7 1279.9,160.9 1281.5,161 1283.1,161 1284.7,160.8 1286.3,160.9 1287.9,161.1 1289.5,161.5 1291.1,161.9 1292.7,162.6 1294.3,163.6 1295.9,164.6 1297.5,165.8 1299.1,167.3 1300.7,168.7" fill="none" stroke="#00b050" stroke-width="1"/>
<path shape-rendering="crispEdges" d="M11 567h2v4h-2zM13 567h1v4h-1zM14 567h2v5h-2zM16 567h1v5h-1zM17 567h2v5h-2zM19 567h2v4h-2zM21 567h1v4h-1zM22 567h2v4h-2zM24 567h1v3h-1zM25 567h2v2h-2zM29 565h1v2h-1zM30 564h2v3h-2zM32 565h1v2h-1zM35 567h2v1h-2zM37 567h1v1h-1zM38 567h2v2h-2zM40 567h1v5h-1zM41 567h2v6h-2zM43 567h2v4h-2zM45 567h1v2h-1zM46 567h2v1h-2zM49 567h2v1h-2zM53 566h1v1h-1zM54 566h2v1h-2zM56 565h1v2h-1zM57 566h2v1h-2zM62 567h2v1h-2zM64 567h1v2h-1zM65 567h2v3h-2zM67 567h2v2h-2zM69 567h1v2h-1zM70 567h2v1h-2zM72 567h1v2h-1zM73 567h2v2h-2zM75 567h2v3h-2zM77 567h1v5h-1zM78 567h2v6h-2zM80 567h1v7h-1zM81 567h2v8h-2zM83 567h2v8h-2zM85 567h1v8h-1zM86 567h2v7h-2zM88 567h1v5h-1zM89 567h2v4h-2zM91 567h2v4h-2zM93 567h1v4h-1zM94 567h2v5h-2zM96 567h1v5h-1zM97 567h2v6h-2zM99 567h2v6h-2zM101 567h1v6h-1zM102 567h2v7h-2zM104 567h1v7h-1zM105 567h2v6h-2zM107 567h2v2h-2zM110 565h2v2h-2zM112 564h1v3h-1zM113 563h2v4h-2zM115 561h2v6h-2zM117 561h1v6h-1zM118 561h2v6h-2zM120 563h1v4h-1zM121 564h2v3h-2zM123 565h2v2h-2zM126 567h2v1h-2zM128 567h1v3h-1zM129 567h2v2h-2zM131 567h2v2h-2zM133 567h1v2h-1zM134 567h2v2h-2zM136 567h1v2h-1zM137 567h2v2h-2zM139 567h2v3h-2zM141 567h1v7h-1zM142 567h2v9h-2zM144 567h1v10h-1zM145 567h2v9h-2zM147 567h2v4h-2zM149 567h1v1h-1zM150 564h2v3h-2zM152 560h1v7h-1zM153 554h2v13h-2zM155 549h2v18h-2zM157 547h1v20h-1zM158 547h2v20h-2zM160 547h1v20h-1zM161 547h2v20h-2zM163 548h2v19h-2zM165 550h1v17h-1zM166 551h2v16h-2zM168 552h1v15h-1zM169 553h2v14h-2zM171 554h2v13h-2zM173 556h1v11h-1zM174 558h2v9h-2zM176 561h1v6h-1zM177 562h2v5h-2zM179 563h2v4h-2zM181 564h1v3h-1zM182 563h2v4h-2zM184 561h1v6h-1zM185 561h2v6h-2zM187 559h2v8h-2zM189 561h1v6h-1zM190 563h2v4h-2zM192 566h1v1h-1zM197 567h1v1h-1zM198 567h2v3h-2zM200 567h1v8h-1zM201 567h2v9h-2zM203 567h2v8h-2zM205 567h1v5h-1zM206 567h2v2h-2zM209 566h2v1h-2zM211 563h2v4h-2zM213 561h1v6h-1zM214 559h2v8h-2zM216 560h1v7h-1zM217 563h2v4h-2zM219 566h2v1h-2zM221 567h1v2h-1zM222 567h2v4h-2zM224 567h1v6h-1zM225 567h2v6h-2zM227 567h2v8h-2zM229 567h1v10h-1zM230 567h2v12h-2zM232 567h1v13h-1zM233 567h2v13h-2zM235 567h2v12h-2zM237 567h1v12h-1zM238 567h2v10h-2zM240 567h1v8h-1zM241 567h2v7h-2zM243 567h2v6h-2zM245 567h1v5h-1zM246 567h2v4h-2zM248 567h1v4h-1zM249 567h2v4h-2zM251 567h2v3h-2zM253 567h1v2h-1zM256 565h1v2h-1zM257 563h2v4h-2zM259 562h2v5h-2zM261 563h1v4h-1zM262 564h2v3h-2zM264 566h1v1h-1zM265 567h2v3h-2zM267 567h2v5h-2zM269 567h1v4h-1zM270 567h2v3h-2zM272 567h1v2h-1zM273 567h2v2h-2zM275 567h2v2h-2zM277 567h1v2h-1zM278 567h2v1h-2zM280 566h1v1h-1zM281 565h2v2h-2zM283 564h2v3h-2zM285 563h1v4h-1zM286 564h2v3h-2zM288 564h1v3h-1zM291 567h2v3h-2zM293 567h1v4h-1zM294 567h2v5h-2zM296 567h1v6h-1zM297 567h2v7h-2zM299 567h2v7h-2zM301 567h1v5h-1zM302 567h2v3h-2zM304 567h1v1h-1zM305 566h2v1h-2zM307 566h2v1h-2zM309 563h1v4h-1zM310 562h2v5h-2zM312 562h1v5h-1zM313 562h2v5h-2zM315 562h2v5h-2zM317 562h1v5h-1zM318 562h2v5h-2zM320 562h1v5h-1zM321 562h2v5h-2zM323 564h2v3h-2zM325 565h1v2h-1zM326 567h2v1h-2zM328 567h1v2h-1zM329 567h2v2h-2zM331 567h1v2h-1zM332 567h2v1h-2zM336 564h1v3h-1zM337 563h2v4h-2zM339 564h1v3h-1zM340 564h2v3h-2zM342 563h2v4h-2zM344 562h1v5h-1zM345 560h2v7h-2zM347 560h1v7h-1zM348 562h2v5h-2zM350 564h2v3h-2zM352 564h1v3h-1zM353 564h2v3h-2zM355 563h1v4h-1zM356 563h2v4h-2zM358 563h2v4h-2zM360 564h1v3h-1zM361 564h2v3h-2zM363 563h1v4h-1zM364 563h2v4h-2zM366 562h2v5h-2zM368 560h1v7h-1zM369 559h2v8h-2zM371 559h1v8h-1zM372 559h2v8h-2zM374 560h2v7h-2zM376 562h1v5h-1zM377 564h2v3h-2zM380 567h2v1h-2zM382 567h2v2h-2zM384 567h1v2h-1zM385 567h2v3h-2zM387 567h1v4h-1zM388 567h2v6h-2zM390 567h2v8h-2zM392 567h1v8h-1zM393 567h2v7h-2zM395 567h1v5h-1zM396 567h2v3h-2zM398 567h2v1h-2zM400 567h1v1h-1zM401 567h2v2h-2zM403 567h1v4h-1zM404 567h2v5h-2zM406 567h2v4h-2zM408 567h1v4h-1zM409 567h2v3h-2zM411 567h1v3h-1zM412 567h2v4h-2zM414 567h2v4h-2zM416 567h1v4h-1zM417 567h2v3h-2zM419 567h1v3h-1zM420 567h2v3h-2zM422 567h2v4h-2zM424 567h1v7h-1zM425 567h2v6h-2zM427 567h1v5h-1zM428 567h2v4h-2zM430 567h2v4h-2zM432 567h1v3h-1zM433 567h2v3h-2zM435 567h1v1h-1zM440 566h1v1h-1zM441 566h2v1h-2zM443 565h1v2h-1zM444 565h2v2h-2zM446 565h2v2h-2zM448 565h1v2h-1zM449 564h2v3h-2zM451 564h1v3h-1zM452 564h2v3h-2zM454 564h2v3h-2zM456 565h1v2h-1zM457 566h2v1h-2zM459 567h1v1h-1zM460 567h2v3h-2zM462 567h2v2h-2zM464 567h1v1h-1zM467 566h1v1h-1zM468 565h2v2h-2zM470 564h2v3h-2zM472 562h1v5h-1zM473 561h2v6h-2zM475 561h1v6h-1zM476 561h2v6h-2zM478 561h2v6h-2zM480 562h1v5h-1zM481 564h2v3h-2zM483 566h1v1h-1zM484 566h2v1h-2zM488 566h1v1h-1zM489 566h2v1h-2zM492 567h2v2h-2zM494 567h2v7h-2zM496 567h1v8h-1zM497 567h2v7h-2zM499 567h1v6h-1zM500 567h2v6h-2zM502 567h2v7h-2zM504 567h1v7h-1zM505 567h2v7h-2zM507 567h1v6h-1zM508 567h2v4h-2zM510 567h2v1h-2zM512 566h1v1h-1zM513 565h2v2h-2zM515 564h1v3h-1zM516 561h2v6h-2zM518 558h2v9h-2zM520 556h1v11h-1zM521 555h2v12h-2zM523 556h1v11h-1zM524 557h2v10h-2zM526 559h2v8h-2zM528 561h1v6h-1zM529 563h2v4h-2zM531 566h1v1h-1zM534 567h2v2h-2zM536 567h1v3h-1zM537 567h2v5h-2zM539 567h1v6h-1zM540 567h2v6h-2zM542 567h2v5h-2zM544 567h1v4h-1zM545 567h2v3h-2zM547 567h1v1h-1zM548 567h2v3h-2zM550 567h2v4h-2zM552 567h1v6h-1zM553 567h2v8h-2zM555 567h1v10h-1zM556 567h2v11h-2zM558 567h2v13h-2zM560 567h1v14h-1zM561 567h2v17h-2zM563 567h1v18h-1zM564 567h2v18h-2zM566 567h2v17h-2zM568 567h1v19h-1zM569 567h2v20h-2zM571 567h1v19h-1zM572 567h2v13h-2zM574 567h2v9h-2zM576 567h1v5h-1zM577 567h2v3h-2zM580 564h2v3h-2zM582 562h2v5h-2zM584 562h1v5h-1zM585 563h2v4h-2zM587 563h1v4h-1zM588 565h2v2h-2zM590 566h2v1h-2zM592 566h1v1h-1zM593 567h2v1h-2zM596 566h2v1h-2zM598 563h2v4h-2zM600 562h1v5h-1zM601 561h2v6h-2zM603 559h1v8h-1zM604 557h2v10h-2zM606 554h2v13h-2zM608 553h1v14h-1zM609 552h2v15h-2zM611 552h1v15h-1zM612 552h2v15h-2zM614 553h2v14h-2zM616 550h1v17h-1zM617 548h2v19h-2zM619 551h1v16h-1zM620 554h2v13h-2zM622 559h2v8h-2zM624 564h1v3h-1zM625 567h2v1h-2zM627 567h1v5h-1zM628 567h2v11h-2zM630 567h2v16h-2zM632 567h1v16h-1zM633 567h2v16h-2zM635 567h1v15h-1zM636 567h2v13h-2zM638 567h2v11h-2zM640 567h1v7h-1zM641 567h2v5h-2zM643 567h1v3h-1zM644 567h2v5h-2zM646 567h2v4h-2zM648 567h1v3h-1zM649 567h2v2h-2zM651 567h1v3h-1zM652 567h2v6h-2zM654 567h1v3h-1zM655 567h2v1h-2zM657 567h2v1h-2zM659 567h1v4h-1zM660 567h2v9h-2zM662 567h1v13h-1zM663 567h2v21h-2zM665 567h2v31h-2zM667 567h1v27h-1zM668 567h2v21h-2zM670 567h1v14h-1zM671 567h2v11h-2zM673 567h2v7h-2zM675 567h1v9h-1zM676 567h2v11h-2zM678 567h1v7h-1zM679 567h2v3h-2zM681 564h2v3h-2zM683 560h1v7h-1zM684 557h2v10h-2zM686 556h1v11h-1zM687 552h2v15h-2zM689 547h2v20h-2zM691 544h1v23h-1zM692 543h2v24h-2zM694 543h1v24h-1zM695 543h2v24h-2zM697 544h2v23h-2zM699 545h1v22h-1zM700 547h2v20h-2zM702 549h1v18h-1zM703 550h2v17h-2zM705 551h2v16h-2zM707 554h1v13h-1zM708 557h2v10h-2zM710 561h1v6h-1zM711 564h2v3h-2zM715 567h1v2h-1zM716 567h2v3h-2zM718 567h1v4h-1zM719 567h2v4h-2zM721 567h2v6h-2zM723 567h1v6h-1zM724 567h2v7h-2zM726 567h1v8h-1zM727 567h2v10h-2zM729 567h2v15h-2zM731 567h1v17h-1zM732 567h2v19h-2zM734 567h1v20h-1zM735 567h2v20h-2zM737 567h2v20h-2zM739 567h1v20h-1zM740 567h2v22h-2zM742 567h1v22h-1zM743 567h2v20h-2zM745 567h2v18h-2zM747 567h1v15h-1zM748 567h2v10h-2zM750 567h1v5h-1zM751 566h2v1h-2zM753 562h2v5h-2zM755 561h1v6h-1zM756 560h2v7h-2zM758 556h1v11h-1zM759 554h2v13h-2zM761 554h2v13h-2zM763 553h1v14h-1zM764 553h2v14h-2zM766 553h1v14h-1zM767 552h2v15h-2zM769 553h2v14h-2zM771 555h1v12h-1zM772 556h2v11h-2zM774 558h1v9h-1zM775 559h2v8h-2zM777 561h2v6h-2zM779 564h1v3h-1zM780 567h2v1h-2zM782 567h1v6h-1zM783 567h2v9h-2zM785 567h2v9h-2zM787 567h1v9h-1zM788 567h2v8h-2zM790 567h1v6h-1zM791 567h2v6h-2zM793 567h2v5h-2zM795 567h1v3h-1zM798 564h1v3h-1zM799 562h2v5h-2zM801 561h2v6h-2zM803 563h1v4h-1zM804 564h2v3h-2zM806 565h1v2h-1zM807 564h2v3h-2zM809 563h2v4h-2zM811 561h1v6h-1zM812 561h2v6h-2zM814 563h1v4h-1zM815 565h2v2h-2zM817 567h2v1h-2zM820 566h2v1h-2zM822 564h1v3h-1zM823 562h2v5h-2zM825 561h2v6h-2zM827 561h1v6h-1zM828 560h2v7h-2zM830 562h1v5h-1zM831 562h2v5h-2zM833 562h2v5h-2zM835 560h1v7h-1zM836 558h2v9h-2zM838 558h1v9h-1zM839 559h2v8h-2zM841 561h2v6h-2zM843 562h1v5h-1zM844 561h2v6h-2zM846 561h1v6h-1zM847 562h2v5h-2zM849 561h2v6h-2zM851 561h1v6h-1zM852 561h2v6h-2zM854 563h1v4h-1zM855 565h2v2h-2zM859 567h1v4h-1zM860 567h2v6h-2zM862 567h1v8h-1zM863 567h2v9h-2zM865 567h2v11h-2zM867 567h1v13h-1zM868 567h2v15h-2zM870 567h1v17h-1zM871 567h2v19h-2zM873 567h2v19h-2zM875 567h1v18h-1zM876 567h2v16h-2zM878 567h1v13h-1zM879 567h2v9h-2zM881 567h2v4h-2zM883 565h1v2h-1zM884 564h2v3h-2zM886 563h1v4h-1zM887 562h2v5h-2zM889 563h2v4h-2zM891 564h1v3h-1zM892 564h2v3h-2zM894 565h1v2h-1zM897 567h2v2h-2zM899 567h1v4h-1zM900 567h2v6h-2zM902 567h1v7h-1zM903 567h2v7h-2zM905 567h2v6h-2zM907 567h1v5h-1zM908 567h2v1h-2zM910 564h1v3h-1zM911 564h2v3h-2zM913 565h2v2h-2zM915 566h1v1h-1zM918 566h1v1h-1zM919 564h2v3h-2zM921 562h2v5h-2zM923 560h1v7h-1zM924 559h2v8h-2zM926 560h1v7h-1zM927 560h2v7h-2zM929 559h2v8h-2zM931 559h1v8h-1zM932 557h2v10h-2zM934 554h1v13h-1zM935 553h2v14h-2zM937 551h2v16h-2zM939 549h1v18h-1zM940 548h2v19h-2zM942 547h1v20h-1zM943 547h2v20h-2zM945 547h2v20h-2zM947 547h1v20h-1zM948 547h2v20h-2zM950 545h1v22h-1zM951 545h2v22h-2zM953 548h2v19h-2zM955 552h1v15h-1zM956 557h2v10h-2zM958 559h1v8h-1zM959 562h2v5h-2zM961 563h2v4h-2zM963 564h1v3h-1zM964 565h2v2h-2zM966 566h1v1h-1zM969 567h2v1h-2zM971 567h1v1h-1zM972 567h2v2h-2zM974 567h1v3h-1zM975 567h2v5h-2zM977 567h1v7h-1zM978 567h2v8h-2zM980 567h2v9h-2zM982 567h1v9h-1zM983 567h2v6h-2zM985 567h1v5h-1zM986 567h2v6h-2zM988 567h2v7h-2zM990 567h1v7h-1zM991 567h2v7h-2zM993 567h1v5h-1zM994 567h2v4h-2zM996 567h2v4h-2zM998 567h1v5h-1zM999 567h2v4h-2zM1001 567h1v3h-1zM1002 567h2v2h-2zM1004 566h2v1h-2zM1006 564h1v3h-1zM1007 563h2v4h-2zM1009 560h1v7h-1zM1010 558h2v9h-2zM1012 556h2v11h-2zM1014 555h1v12h-1zM1015 557h2v10h-2zM1017 559h1v8h-1zM1018 562h2v5h-2zM1020 564h2v3h-2zM1023 567h2v2h-2zM1025 567h1v3h-1zM1026 567h2v2h-2zM1028 567h2v3h-2zM1030 567h1v6h-1zM1031 567h2v6h-2zM1033 567h1v6h-1zM1034 567h2v7h-2zM1036 567h2v7h-2zM1038 567h1v6h-1zM1039 567h2v6h-2zM1041 567h1v6h-1zM1042 567h2v7h-2zM1044 567h2v7h-2zM1046 567h1v7h-1zM1047 567h2v8h-2zM1049 567h1v8h-1zM1050 567h2v8h-2zM1052 567h2v8h-2zM1054 567h1v7h-1zM1055 567h2v7h-2zM1057 567h1v6h-1zM1058 567h2v7h-2zM1060 567h2v9h-2zM1062 567h1v9h-1zM1063 567h2v7h-2zM1065 567h1v6h-1zM1066 567h2v4h-2zM1068 567h2v2h-2zM1073 564h1v3h-1zM1074 563h2v4h-2zM1076 563h2v4h-2zM1078 564h1v3h-1zM1081 567h1v5h-1zM1082 567h2v8h-2zM1084 567h2v11h-2zM1086 567h1v13h-1zM1087 567h2v15h-2zM1089 567h1v13h-1zM1090 567h2v10h-2zM1092 567h2v8h-2zM1094 567h1v7h-1zM1095 567h2v7h-2zM1097 567h1v5h-1zM1098 567h2v3h-2zM1102 564h1v3h-1zM1103 561h2v6h-2zM1105 558h1v9h-1zM1106 556h2v11h-2zM1108 556h2v11h-2zM1110 556h1v11h-1zM1111 556h2v11h-2zM1113 556h1v11h-1zM1114 555h2v12h-2zM1116 554h2v13h-2zM1118 554h1v13h-1zM1119 552h2v15h-2zM1121 552h1v15h-1zM1122 552h2v15h-2zM1124 555h2v12h-2zM1126 557h1v10h-1zM1127 559h2v8h-2zM1129 561h1v6h-1zM1130 560h2v7h-2zM1132 561h2v6h-2zM1134 562h1v5h-1zM1135 565h2v2h-2zM1137 566h1v1h-1zM1138 566h2v1h-2zM1140 565h2v2h-2zM1142 566h1v1h-1zM1146 567h2v1h-2zM1148 567h2v1h-2zM1150 567h1v2h-1zM1151 567h2v2h-2zM1153 567h1v1h-1zM1154 566h2v1h-2zM1156 565h2v2h-2zM1158 567h1v1h-1zM1159 567h2v3h-2zM1161 567h1v4h-1zM1162 567h2v4h-2zM1164 567h2v5h-2zM1166 567h1v6h-1zM1167 567h2v4h-2zM1169 567h1v2h-1zM1170 566h2v1h-2zM1172 564h2v3h-2zM1174 564h1v3h-1zM1175 563h2v4h-2zM1177 563h1v4h-1zM1178 564h2v3h-2zM1180 564h2v3h-2zM1182 564h1v3h-1zM1183 562h2v5h-2zM1185 563h1v4h-1zM1186 566h2v1h-2zM1188 567h2v1h-2zM1190 567h1v2h-1zM1191 567h2v4h-2zM1193 567h1v5h-1zM1194 567h2v5h-2zM1196 567h2v4h-2zM1198 567h1v4h-1zM1199 567h2v3h-2zM1201 567h1v3h-1zM1202 567h2v4h-2zM1204 567h2v5h-2zM1206 567h1v5h-1zM1207 567h2v4h-2zM1209 567h1v3h-1zM1212 564h2v3h-2zM1214 561h1v6h-1zM1215 559h2v8h-2zM1217 557h1v10h-1zM1218 556h2v11h-2zM1220 556h2v11h-2zM1222 557h1v10h-1zM1223 559h2v8h-2zM1225 560h1v7h-1zM1226 561h2v6h-2zM1228 563h2v4h-2zM1230 564h1v3h-1zM1231 566h2v1h-2zM1234 567h2v3h-2zM1236 567h2v6h-2zM1238 567h1v7h-1zM1239 567h2v8h-2zM1241 567h1v11h-1zM1242 567h2v11h-2zM1244 567h2v10h-2zM1246 567h1v10h-1zM1247 567h2v10h-2zM1249 567h1v12h-1zM1250 567h2v13h-2zM1252 567h2v15h-2zM1254 567h1v15h-1zM1255 567h2v14h-2zM1257 567h1v13h-1zM1258 567h2v12h-2zM1260 567h2v10h-2zM1262 567h1v7h-1zM1263 567h2v5h-2zM1265 567h1v2h-1zM1266 567h2v1h-2zM1268 567h2v1h-2zM1270 567h1v1h-1zM1271 567h2v2h-2zM1273 567h1v6h-1zM1274 567h2v7h-2zM1276 567h2v8h-2zM1278 567h1v7h-1zM1279 567h2v5h-2zM1281 567h1v3h-1zM1282 567h2v2h-2zM1284 567h2v1h-2zM1287 567h2v1h-2zM1289 567h1v1h-1zM1290 567h2v1h-2zM1292 567h1v1h-1zM1293 567h2v1h-2zM1295 567h2v2h-2zM1297 567h1v3h-1zM1298 567h2v4h-2zM1300 567h1v3h-1z" fill="#76923c"/>
<polyline shape-rendering="crispEdges" points="11.9,542.8 13.5,543.8 15.1,544.9 16.7,546 18.3,547.3 19.9,548.4 21.5,549.4 23.1,550.3 24.7,551.1 26.3,551.6 27.9,551.7 29.5,551.1 31.1,550.4 32.7,549.9 34.3,549.9 35.9,550.2 37.5,550.5 39.1,551.1 40.7,552.3 42.3,553.7 43.9,554.7 45.5,555.2 47.1,555.5 48.7,555.6 50.3,555.8 51.9,555.8 53.5,555.7 55.1,555.5 56.7,555.1 58.3,554.8 59.9,554.7 61.5,554.8 63.1,555.1 64.7,555.7 66.3,556.3 67.9,556.8 69.5,557.2 71.1,557.6 72.7,558 74.3,558.5 75.9,559.3 77.5,560.6 79.1,562.2 80.7,564 82.3,566 83.9,567.9 85.5,569.8 87.1,571.6 88.7,572.9 90.3,574 91.8,574.9 93.4,576 95,577.2 96.6,578.3 98.2,579.8 99.8,581.4 101.4,582.9 103,584.8 104.6,586.5 106.2,587.9 107.8,588.5 109.4,588.4 111,587.9 112.6,587.2 114.2,586.2 115.8,584.8 117.4,583.3 119,581.8 120.6,580.9 122.2,580.2 123.8,579.8 125.4,579.7 127,580 128.6,580.7 130.2,581.3 131.8,581.7 133.4,582.1 135,582.5 136.6,582.9 138.2,583.5 139.8,584.2 141.4,585.9 143,588.2 144.6,590.6 146.2,592.9 147.8,594 149.4,594.2 151,593.4 152.6,591.7 154.2,588.4 155.8,583.9 157.4,578.8 159,573.7 160.6,568.6 162.2,563.6 163.8,558.9 165.4,554.6 167,550.7 168.6,546.8 170.2,543.3 171.8,540.1 173.4,537.4 175,535.1 176.6,533.6 178.2,532.2 179.8,531.3 181.4,530.5 183,529.4 184.6,528 186.2,526.4 187.8,524.4 189.4,522.9 191,521.9 192.6,521.7 194.2,521.7 195.8,521.6 197.4,521.9 199,522.7 200.6,524.8 202.2,527 203.8,529 205.4,530.3 207,530.7 208.6,530.9 210.2,530.6 211.8,529.6 213.4,528.1 215,526.2 216.6,524.5 218.2,523.5 219.8,523.3 221.4,523.8 223,524.9 224.6,526.3 226.2,527.8 227.8,529.9 229.4,532.3 231,535.2 232.6,538.4 234.2,541.6 235.8,544.7 237.4,547.8 239,550.2 240.6,552.2 242.2,553.9 243.8,555.4 245.4,556.7 247,557.7 248.6,558.6 250.2,559.6 251.8,560.2 253.3,560.6 254.9,560.6 256.5,560.1 258.1,559 259.7,557.7 261.3,556.6 262.9,555.9 264.5,555.6 266.1,556.4 267.7,557.7 269.3,558.8 270.9,559.5 272.5,560 274.1,560.4 275.7,560.8 277.3,561.3 278.9,561.7 280.5,561.5 282.1,561 283.7,560.1 285.3,559.2 286.9,558.4 288.5,557.7 290.1,557.7 291.7,558.4 293.3,559.4 294.9,560.7 296.5,562.1 298.1,563.9 299.7,565.7 301.3,566.9 302.9,567.6 304.5,567.8 306.1,567.6 307.7,567.3 309.3,566.3 310.9,565 312.5,563.6 314.1,562.3 315.7,561.2 317.3,560 318.9,558.8 320.5,557.6 322.1,556.4 323.7,555.6 325.3,555.2 326.9,555.3 328.5,555.8 330.1,556.3 331.7,556.7 333.3,556.9 334.9,556.8 336.5,556 338.1,555 339.7,554.3 341.3,553.5 342.9,552.6 344.5,551.4 346.1,549.7 347.7,548 349.3,546.8 350.9,545.9 352.5,545.3 354.1,544.5 355.7,543.4 357.3,542.3 358.9,541.5 360.5,540.6 362.1,539.8 363.7,538.9 365.3,537.8 366.9,536.6 368.5,535 370.1,533.1 371.7,531 373.3,528.9 374.9,527.1 376.5,525.8 378.1,525.1 379.7,525.1 381.3,525.3 382.9,525.7 384.5,526.2 386.1,526.9 387.7,528.1 389.3,529.6 390.9,531.6 392.5,533.6 394.1,535.3 395.7,536.6 397.3,537.2 398.9,537.5 400.5,537.8 402.1,538.3 403.7,539.3 405.3,540.6 406.9,541.7 408.5,542.7 410.1,543.4 411.7,544.2 413.2,545.2 414.8,546.1 416.4,547 418,547.7 419.6,548.4 421.2,549.1 422.8,550.2 424.4,551.9 426,553.4 427.6,554.7 429.2,555.7 430.8,556.6 432.4,557.4 434,558.1 435.6,558.4 437.2,558.5 438.8,558.5 440.4,558.3 442,558 443.6,557.5 445.2,557 446.8,556.4 448.4,555.9 450,555.2 451.6,554.5 453.2,553.7 454.8,553.1 456.4,552.7 458,552.5 459.6,552.9 461.2,553.6 462.8,554.2 464.4,554.5 466,554.6 467.6,554.5 469.2,554.1 470.8,553.3 472.4,552.2 474,550.7 475.6,549.1 477.2,547.5 478.8,545.9 480.4,544.7 482,543.9 483.6,543.6 485.2,543.4 486.8,543.3 488.4,543.1 490,542.9 491.6,543 493.2,543.4 494.8,545 496.4,547 498,548.7 499.6,550.2 501.2,551.8 502.8,553.5 504.4,555.2 506,556.9 507.6,558.3 509.2,559.4 510.8,559.6 512.4,559.5 514,559 515.6,558.3 517.2,556.9 518.8,554.5 520.4,551.7 522,548.7 523.6,545.9 525.2,543.5 526.8,541.4 528.4,539.9 530,538.9 531.6,538.6 533.2,538.7 534.8,539.1 536.4,539.9 538,541.2 539.6,542.7 541.2,544.1 542.8,545.3 544.4,546.4 546,547 547.6,547.4 549.2,548 550.8,549 552.4,550.6 554,552.7 555.6,555.1 557.2,557.8 558.8,561 560.4,564.6 562,568.8 563.6,573.3 565.2,577.8 566.8,581.9 568.4,586.7 570,591.7 571.5,596.4 573.1,599.7 574.7,601.9 576.3,603 577.9,603.7 579.5,603.6 581.1,602.8 582.7,601.6 584.3,600.5 585.9,599.4 587.5,598.3 589.1,597.8 590.7,597.7 592.3,597.5 593.9,597.7 595.5,597.7 597.1,597.4 598.7,596.4 600.3,595.1 601.9,593.5 603.5,591.4 605.1,588.9 606.7,585.7 608.3,582.2 609.9,578.6 611.5,574.9 613.1,571.2 614.7,567.6 616.3,563.3 617.9,558.7 619.5,554.7 621.1,551.5 622.7,549.4 624.3,548.6 625.9,548.8 627.5,550.1 629.1,552.9 630.7,556.9 632.3,561 633.9,565 635.5,568.7 637.1,572 638.7,574.6 640.3,576.3 641.9,577.5 643.5,578.3 645.1,579.4 646.7,580.5 648.3,581.3 649.9,581.8 651.5,582.5 653.1,584 654.7,584.9 656.3,585.2 657.9,585.5 659.5,586.6 661.1,588.8 662.7,592.2 664.3,597.5 665.9,605.3 667.5,612 669.1,617.3 670.7,620.8 672.3,623.5 673.9,625.3 675.5,627.4 677.1,630.2 678.7,632 680.3,632.7 681.9,632 683.5,630.2 685.1,627.7 686.7,625 688.3,621.3 689.9,616.4 691.5,610.7 693.1,604.7 694.7,598.8 696.3,592.7 697.9,586.9 699.5,581.5 701.1,576.5 702.7,572 704.3,567.9 705.9,564 707.5,560.8 709.1,558.3 710.7,556.7 712.3,556.1 713.9,556.2 715.5,556.8 717.1,557.5 718.7,558.4 720.3,559.3 721.9,560.7 723.5,562.3 725.1,564.1 726.7,566.2 728.3,568.8 729.9,572.4 731.4,576.6 733,581.4 734.6,586.4 736.2,591.4 737.8,596.5 739.4,601.6 741,607.1 742.6,612.5 744.2,617.5 745.8,622.1 747.4,625.9 749,628.4 750.6,629.6 752.2,629.4 753.8,628.2 755.4,626.7 757,624.8 758.6,622.2 760.2,618.9 761.8,615.6 763.4,612.2 765,608.8 766.6,605.2 768.2,601.4 769.8,597.9 771.4,594.8 773,592.1 774.6,589.8 776.2,587.8 777.8,586.3 779.4,585.4 781,585.7 782.6,587.2 784.2,589.5 785.8,591.8 787.4,594.1 789,596 790.6,597.4 792.2,598.9 793.8,600.2 795.4,601.1 797,601.2 798.6,600.4 800.2,599.1 801.8,597.7 803.4,596.6 805,596 806.6,595.5 808.2,594.8 809.8,593.6 811.4,592 813,590.6 814.6,589.6 816.2,589.1 817.8,589.3 819.4,589.3 821,589.1 822.6,588.5 824.2,587.4 825.8,585.9 827.4,584.3 829,582.5 830.6,581.3 832.2,580.1 833.8,579 835.4,577.2 837,575 838.6,572.8 840.2,570.9 841.8,569.3 843.4,568 845,566.6 846.6,565.2 848.2,564 849.8,562.5 851.4,560.9 853,559.4 854.6,558.4 856.2,557.9 857.8,557.9 859.4,558.8 861,560.3 862.6,562.1 864.2,564.4 865.8,567.2 867.4,570.4 869,574.3 870.6,578.6 872.2,583.2 873.8,587.9 875.4,592.4 877,596.4 878.6,599.6 880.2,601.9 881.8,602.8 883.4,602.4 885,601.7 886.6,600.7 888.2,599.4 889.8,598.5 891.3,597.7 892.9,597 894.5,596.4 896.1,596.3 897.7,596.7 899.3,597.7 900.9,599.2 902.5,600.9 904.1,602.7 905.7,604.4 907.3,605.7 908.9,605.9 910.5,605.2 912.1,604.6 913.7,604 915.3,603.7 916.9,603.7 918.5,603.4 920.1,602.8 921.7,601.6 923.3,599.8 924.9,597.7 926.5,596 928.1,594.2 929.7,592.2 931.3,590.1 932.9,587.5 934.5,584.4 936.1,580.8 937.7,576.8 939.3,572.4 940.9,567.7 942.5,562.8 944.1,557.8 945.7,552.8 947.3,547.8 948.9,542.9 950.5,537.5 952.1,531.8 953.7,527 955.3,523.4 956.9,520.8 958.5,518.9 960.1,517.6 961.7,516.6 963.3,515.7 964.9,515.2 966.5,515 968.1,515 969.7,515.3 971.3,515.6 972.9,516.1 974.5,516.9 976.1,518.2 977.7,519.8 979.3,521.9 980.9,524.1 982.5,526.3 984.1,527.8 985.7,528.9 987.3,530.3 988.9,532.2 990.5,534 992.1,535.8 993.7,537 995.3,537.9 996.9,539 998.5,540.1 1000.1,541.2 1001.7,542 1003.3,542.5 1004.9,542.3 1006.5,541.6 1008.1,540.5 1009.7,538.9 1011.3,536.7 1012.9,533.9 1014.5,531 1016.1,528.4 1017.7,526.5 1019.3,525.2 1020.9,524.5 1022.5,524.4 1024.1,524.9 1025.7,525.7 1027.3,526.2 1028.9,527 1030.5,528.4 1032.1,529.9 1033.7,531.5 1035.3,533.3 1036.9,535 1038.5,536.6 1040.1,538.2 1041.7,539.8 1043.3,541.5 1044.9,543.3 1046.5,544.9 1048.1,546.8 1049.7,548.9 1051.2,551 1052.8,552.9 1054.4,554.6 1056,556.2 1057.6,557.8 1059.2,559.5 1060.8,561.7 1062.4,563.9 1064,565.8 1065.6,567.2 1067.2,568.2 1068.8,568.7 1070.4,568.8 1072,568.7 1073.6,568.1 1075.2,567 1076.8,565.9 1078.4,565.1 1080,565.2 1081.6,566.4 1083.2,568.5 1084.8,571.1 1086.4,574.4 1088,578.1 1089.6,581.3 1091.2,583.7 1092.8,585.6 1094.4,587.4 1096,589.2 1097.6,590.4 1099.2,591.1 1100.8,591.1 1102.4,590.3 1104,588.7 1105.6,586.4 1107.2,583.7 1108.8,580.9 1110.4,578.2 1112,575.4 1113.6,572.6 1115.2,569.4 1116.8,566.2 1118.4,562.8 1120,559.2 1121.6,555.4 1123.2,551.7 1124.8,548.6 1126.4,546.2 1128,544.2 1129.6,542.7 1131.2,541.1 1132.8,539.5 1134.4,538.2 1136,537.7 1137.6,537.4 1139.2,537.1 1140.8,536.7 1142.4,536.4 1144,536.3 1145.6,536.4 1147.2,536.6 1148.8,536.9 1150.4,537.3 1152,537.8 1153.6,538 1155.2,537.9 1156.8,537.5 1158.4,537.6 1160,538.4 1161.6,539.4 1163.2,540.4 1164.8,541.6 1166.4,543.2 1168,544.2 1169.6,544.6 1171.2,544.3 1172.8,543.7 1174.4,542.9 1176,542 1177.6,541 1179.2,540.2 1180.8,539.4 1182.4,538.5 1184,537.3 1185.6,536.3 1187.2,536 1188.8,536.1 1190.4,536.6 1192,537.8 1193.6,539.1 1195.2,540.4 1196.8,541.5 1198.4,542.5 1200,543.2 1201.6,543.8 1203.2,544.7 1204.8,546.1 1206.4,547.4 1208,548.5 1209.6,549.1 1211.1,549.2 1212.7,548.5 1214.3,547.1 1215.9,545.1 1217.5,542.7 1219.1,539.9 1220.7,537.2 1222.3,534.8 1223.9,532.7 1225.5,530.9 1227.1,529.5 1228.7,528.5 1230.3,527.8 1231.9,527.5 1233.5,527.5 1235.1,528.3 1236.7,529.8 1238.3,531.4 1239.9,533.5 1241.5,536.1 1243.1,539 1244.7,541.4 1246.3,543.9 1247.9,546.3 1249.5,549.2 1251.1,552.5 1252.7,556.2 1254.3,559.9 1255.9,563.4 1257.5,566.7 1259.1,569.7 1260.7,572.1 1262.3,573.9 1263.9,575.1 1265.5,575.7 1267.1,576 1268.7,576.3 1270.3,576.4 1271.9,576.9 1273.5,578.2 1275.1,580.1 1276.7,582.1 1278.3,583.8 1279.9,585.1 1281.5,585.9 1283.1,586.3 1284.7,586.5 1286.3,586.6 1287.9,586.9 1289.5,587.1 1291.1,587.3 1292.7,587.5 1294.3,587.8 1295.9,588.3 1297.5,588.9 1299.1,589.9 1300.7,590.7" fill="none" stroke="#f79646" stroke-width="1"/>
<polyline shape-rendering="crispEdges" points="11.9,546.3 13.5,547.7 15.1,549.4 16.7,550.6 18.3,552.3 19.9,552.6 21.5,553.4 23.1,554.1 24.7,554.3 26.3,553.5 27.9,552.2 29.5,548.7 31.1,547.5 32.7,547.9 34.3,550.1 35.9,551.1 37.5,552 39.1,553.2 40.7,557.3 42.3,559.3 43.9,558.5 45.5,557.6 47.1,556.8 48.7,556 50.3,556.5 51.9,555.7 53.5,555.2 55.1,554.7 56.7,553.5 58.3,553.5 59.9,554.4 61.5,555.3 63.1,556.3 64.7,558.2 66.3,558.9 67.9,558.7 69.5,558.7 71.1,559.1 72.7,559.9 74.3,560.3 75.9,562.6 77.5,565.8 79.1,568.5 80.7,571.1 82.3,573.9 83.9,575.5 85.5,577.6 87.1,578.8 88.7,578.3 90.3,578.1 91.8,578.8 93.4,580 95,581.9 96.6,582.9 98.2,585.7 99.8,587.7 101.4,589.3 103,592.1 104.6,593.3 106.2,593.7 107.8,590.7 109.4,587.9 111,585.8 112.6,584.7 114.2,582 115.8,579.2 117.4,577.3 119,576 120.6,577 122.2,577.5 123.8,578.2 125.4,579.2 127,581.3 128.6,583.6 130.2,583.5 131.8,583.2 133.4,583.7 135,584.2 136.6,584.6 138.2,585.7 139.8,587 141.4,592.7 143,597.6 144.6,600.4 146.2,601.8 147.8,598.4 149.4,594.9 151,590.5 152.6,584.9 154.2,575 155.8,565.8 157.4,558.3 159,553.4 160.6,548.1 162.2,543.8 163.8,540.2 165.4,537.4 167,534.7 168.6,531.5 170.2,529.4 171.8,527.1 173.4,526.8 175,526 176.6,527.4 178.2,526.9 179.8,527.3 181.4,527.3 183,525.2 184.6,522.5 186.2,520 187.8,516.5 189.4,516.8 191,518.1 192.6,520.5 194.2,522.1 195.8,521.2 197.4,523.1 199,525.9 200.6,533.1 202.2,535.8 203.8,537 205.4,535.4 207,532.6 208.6,531.3 210.2,529.6 211.8,525.7 213.4,522.1 215,518.4 216.6,517.9 218.2,519.4 219.8,522.4 221.4,526 223,529.1 224.6,531.9 226.2,534 227.8,538 229.4,542.2 231,546.9 232.6,550.9 234.2,554.4 235.8,557.1 237.4,560.1 239,560.1 240.6,560.2 242.2,560.7 243.8,561.3 245.4,561.9 247,561.9 248.6,562.2 250.2,563.3 251.8,562.8 253.3,562.2 254.9,560.4 256.5,558.2 258.1,554.7 259.7,552.3 261.3,552.2 262.9,553 264.5,554.7 266.1,559.4 267.7,563 269.3,563 270.9,562.6 272.5,562 274.1,562 275.7,562.4 277.3,563.3 278.9,563.2 280.5,560.9 282.1,558.8 283.7,556.8 285.3,555.4 286.9,555.2 288.5,555 290.1,557.6 291.7,561 293.3,563.5 294.9,565.8 296.5,568 298.1,570.9 299.7,572.9 301.3,571.8 302.9,570.4 304.5,568.4 306.1,567 307.7,566 309.3,562.3 310.9,559.6 312.5,558.2 314.1,557.2 315.7,556.5 317.3,555.4 318.9,554.2 320.5,552.7 322.1,551.7 323.7,552.1 325.3,553.6 326.9,555.8 328.5,557.8 330.1,558.3 331.7,558.4 333.3,557.7 334.9,556.4 336.5,552.8 338.1,550.8 339.7,551.4 341.3,550.4 342.9,549 344.5,546.7 346.1,542.7 347.7,541.5 349.3,541.6 350.9,542.6 352.5,542.8 354.1,541.1 355.7,539.1 357.3,538.1 358.9,537.9 360.5,537.1 362.1,536.4 363.7,535.3 365.3,533.7 366.9,531.8 368.5,528.5 370.1,525.4 371.7,522.5 373.3,520.6 374.9,520 376.5,520.5 378.1,522.4 379.7,524.8 381.3,526.1 382.9,527.2 384.5,528.3 386.1,529.9 387.7,532.5 389.3,536 390.9,539.2 392.5,541.7 394.1,542.2 395.7,541.5 397.3,539.9 398.9,538.5 400.5,539.1 402.1,540.1 403.7,543.7 405.3,545.6 406.9,546.2 408.5,546.6 410.1,546.4 411.7,547.5 413.2,548.8 414.8,550.1 416.4,550.5 418,550.5 419.6,550.9 421.2,552.2 422.8,554.7 424.4,558.5 426,559.5 427.6,559.7 429.2,559.8 430.8,560.4 432.4,560.6 434,560.9 435.6,559.6 437.2,558.9 438.8,558.6 440.4,557.5 442,556.5 443.6,555.6 445.2,555 446.8,554.3 448.4,553.6 450,552.5 451.6,551.7 453.2,550.7 454.8,550.5 456.4,551 458,552 459.6,554.1 461.2,556.5 462.8,556.5 464.4,556 466,555.1 467.6,553.8 469.2,552.6 470.8,550.2 472.4,547.5 474,544.9 475.6,542.7 477.2,541 478.8,539.7 480.4,539.7 482,540.6 483.6,542.5 485.2,542.9 486.8,542.9 488.4,542.4 490,542.1 491.6,543 493.2,545.1 494.8,551.7 496.4,555 498,555.6 499.6,556.3 501.2,558.1 502.8,560.1 504.4,562 506,563.6 507.6,564.2 509.2,563.4 510.8,560.7 512.4,558.8 514,557.1 515.6,555.3 517.2,551.3 518.8,545 520.4,540.4 522,537 523.6,534.6 525.2,533.7 526.8,533.2 528.4,533.7 530,534.9 531.6,537.2 533.2,539.1 534.8,541 536.4,543 538,546.2 539.6,548.8 541.2,549.7 542.8,550.1 544.4,550.6 546,549.8 547.6,548.7 549.2,550.5 550.8,553.1 552.4,556.9 554,561 555.6,564.8 557.2,568.8 558.8,573.5 560.4,579 562,585.8 563.6,591.4 565.2,595.4 566.8,598.5 568.4,605.9 570,611.9 571.5,615 573.1,613 574.7,610.5 576.3,607.7 577.9,606.3 579.5,603.2 581.1,599.7 582.7,596.7 584.3,595.9 585.9,594.9 587.5,593.9 589.1,596.2 590.7,596.9 592.3,596.9 593.9,598.4 595.5,597.9 597.1,595.9 598.7,592.7 600.3,589.8 601.9,587.2 603.5,583 605.1,578.9 606.7,573 608.3,568.1 609.9,564 611.5,560.3 613.1,556.6 614.7,553.2 616.3,546 617.9,540.1 619.5,538.6 621.1,539 622.7,541.1 624.3,545.2 625.9,549.7 627.5,555.4 629.1,563.7 630.7,572.8 632.3,577.4 633.9,581.1 635.5,583.3 637.1,585.2 638.7,585.1 640.3,583 641.9,582.4 643.5,581.5 645.1,584 646.7,584.8 648.3,584.5 649.9,583.7 651.5,585.2 653.1,590.1 654.7,588.4 656.3,586.7 657.9,586.8 659.5,590.9 661.1,597.8 662.7,605.7 664.3,618.8 665.9,636.4 667.5,638.6 669.1,638.5 670.7,635.1 672.3,634.3 673.9,632.2 675.5,636 677.1,641.5 678.7,639 680.3,635.7 681.9,629 683.5,623 685.1,617.8 686.7,614.1 688.3,606.7 689.9,596.6 691.5,588 693.1,580.8 694.7,574.9 696.3,568.6 697.9,563.5 699.5,559.7 701.1,556.7 702.7,553.9 704.3,551.3 705.9,548.4 707.5,548.1 709.1,548.5 710.7,550.4 712.3,553.4 713.9,556.6 715.5,559.2 717.1,560.2 718.7,562 720.3,563.2 721.9,566.2 723.5,568.7 725.1,571.1 726.7,574.5 728.3,579.1 729.9,587 731.4,593.5 733,600.7 734.6,606.3 736.2,611.6 737.8,616.5 739.4,622 741,629.2 742.6,634.2 744.2,637.7 745.8,640.3 747.4,640.8 749,638.7 750.6,634.2 752.2,628.5 753.8,623.4 755.4,620.7 757,617.4 758.6,611.5 760.2,605.9 761.8,602.3 763.4,598.6 765,595.3 766.6,590.7 768.2,586.3 769.8,583.7 771.4,582.5 773,581.4 774.6,580.5 776.2,580 777.8,580 779.4,582.2 781,586.6 782.6,593.4 784.2,598.5 785.8,601.3 787.4,603 789,604 790.6,603 792.2,604.8 793.8,605.5 795.4,604.6 797,601.6 798.6,597 800.2,594 801.8,592.1 803.4,592.4 805,593.2 806.6,593.8 808.2,591.6 809.8,589.2 811.4,585.7 813,584.8 814.6,585.4 816.2,587.1 817.8,590.1 819.4,589.6 821,588.3 822.6,586 824.2,582.8 825.8,579.9 827.4,577.8 829,575.5 830.6,576.6 832.2,575.3 833.8,574.3 835.4,570.3 837,566 838.6,563.9 840.2,563.2 841.8,563 843.4,562.8 845,561 846.6,559.7 848.2,559 849.8,556.5 851.4,554.4 853,553.7 854.6,554.5 856.2,555.9 857.8,557.8 859.4,562.3 861,566.1 862.6,569.7 864.2,573.7 865.8,578.3 867.4,583.4 869,589.5 870.6,595.8 872.2,601.8 873.8,606.6 875.4,610.4 877,612.5 878.6,612.5 880.2,610.8 881.8,606.6 883.4,600.9 885,598.6 886.6,596.8 888.2,594.3 889.8,594.7 891.3,594.4 892.9,594.2 894.5,594.2 896.1,595.9 897.7,598.4 899.3,601.8 900.9,604.9 902.5,607.8 904.1,610.1 905.7,610.8 907.3,611.1 908.9,606.6 910.5,602.7 912.1,601.8 913.7,601.8 915.3,602.7 916.9,603.5 918.5,602.5 920.1,600 921.7,596.9 923.3,592.5 924.9,589.7 926.5,589 928.1,586.8 929.7,584.3 931.3,581.6 932.9,577.4 934.5,571.8 936.1,566.3 937.7,561.1 939.3,554.6 940.9,549 942.5,543.2 944.1,537.8 945.7,532.8 947.3,527.8 948.9,523.4 950.5,515.6 952.1,509.4 953.7,507.7 955.3,508.8 956.9,510.6 958.5,511.4 960.1,512.1 961.7,512.8 963.3,512.2 964.9,512.8 966.5,514.2 968.1,515 969.7,516.4 971.3,517 972.9,518.1 974.5,520.2 976.1,523.1 977.7,526.5 979.3,530.2 980.9,532.8 982.5,535.3 984.1,533.8 985.7,533.5 987.3,535.9 988.9,539.6 990.5,541.4 992.1,542.9 993.7,541.8 995.3,541.6 996.9,543.4 998.5,544.7 1000.1,545.6 1001.7,545.3 1003.3,544.1 1004.9,541.6 1006.5,538.9 1008.1,536.2 1009.7,532.4 1011.3,527.9 1012.9,522.9 1014.5,519.4 1016.1,518 1017.7,518.7 1019.3,520 1020.9,521.8 1022.5,524.1 1024.1,527 1025.7,528.7 1027.3,528.1 1028.9,530.1 1030.5,533.9 1032.1,536.1 1033.7,537.7 1035.3,540.6 1036.9,541.9 1038.5,543 1040.1,544.5 1041.7,546.2 1043.3,548.3 1044.9,550.3 1046.5,551.6 1048.1,554.4 1049.7,557.3 1051.2,559.4 1052.8,560.7 1054.4,561.3 1056,562.8 1057.6,564.2 1059.2,566.3 1060.8,570.2 1062.4,572.9 1064,573.1 1065.6,572.9 1067.2,572.2 1068.8,570.7 1070.4,569.1 1072,568.6 1073.6,565.4 1075.2,562.5 1076.8,561.7 1078.4,561.7 1080,565.6 1081.6,571.2 1083.2,576.8 1084.8,581.6 1086.4,587.7 1088,593 1089.6,594 1091.2,593.4 1092.8,593.4 1094.4,594.5 1096,596.1 1097.6,595.4 1099.2,593.8 1100.8,591.3 1102.4,587 1104,582.5 1105.6,577.3 1107.2,572.9 1108.8,569.6 1110.4,567.3 1112,564.3 1113.6,561.1 1115.2,557 1116.8,553.1 1118.4,549.5 1120,544.5 1121.6,540.2 1123.2,536.9 1124.8,536.5 1126.4,536.6 1128,536.1 1129.6,536.7 1131.2,534.5 1132.8,533.1 1134.4,533.3 1136,535.7 1137.6,536 1139.2,536 1140.8,535.2 1142.4,535.2 1144,536 1145.6,536.7 1147.2,537.2 1148.8,538.2 1150.4,539 1152,539.8 1153.6,539 1155.2,537.1 1156.8,535.8 1158.4,538.1 1160,541.6 1161.6,543.4 1163.2,544.3 1164.8,546.3 1166.4,549.7 1168,548.2 1169.6,546.4 1171.2,543.2 1172.8,541.1 1174.4,539.7 1176,538.3 1177.6,537.3 1179.2,536.9 1180.8,536.1 1182.4,535 1184,532.6 1185.6,532.4 1187.2,534.5 1188.8,536.6 1190.4,538.8 1192,542.2 1193.6,544.6 1195.2,545.3 1196.8,545.8 1198.4,546.5 1200,546.1 1201.6,546.4 1203.2,548.3 1204.8,551.5 1206.4,552.7 1208,552.7 1209.6,551.7 1211.1,549.4 1212.7,546 1214.3,541.4 1215.9,537.1 1217.5,533.2 1219.1,528.8 1220.7,526.1 1222.3,525.3 1223.9,524.4 1225.5,523.6 1227.1,523.8 1228.7,524.5 1230.3,525 1231.9,526.4 1233.5,527.7 1235.1,531.3 1236.7,535.7 1238.3,538.1 1239.9,541.6 1241.5,546.7 1243.1,550.3 1244.7,551.2 1246.3,553.7 1247.9,556 1249.5,560.7 1251.1,565.8 1252.7,571.1 1254.3,574.7 1255.9,577.5 1257.5,580 1259.1,581.3 1260.7,581.8 1262.3,581.2 1263.9,579.9 1265.5,578.2 1267.1,577.1 1268.7,577.3 1270.3,577.2 1271.9,578.5 1273.5,583.8 1275.1,587.5 1276.7,590 1278.3,590.7 1279.9,590.1 1281.5,589.2 1283.1,588.2 1284.7,587.2 1286.3,586.9 1287.9,587.9 1289.5,587.9 1291.1,588 1292.7,588.3 1294.3,589.3 1295.9,590.2 1297.5,591.5 1299.1,593.9 1300.7,593.6" fill="none" stroke="#c0504d" stroke-width="1"/>
<path shape-rendering="crispEdges" transform="translate(0.5,0)" d="M11 338V347M13 340V348M14 342V349M16 343V350M17 344V352M19 340V348M21 344V352M22 343V350M24 342V347M25 337V345M27 332V345M29 321V332M30 326V334M32 329V335M33 333V343M35 332V338M37 329V338M38 332V339M40 335V355M41 338V353M43 332V344M45 332V339M46 330V336M48 328V339M49 332V340M51 328V338M53 328V335M54 328V333M56 322V329M57 326V330M59 326V332M61 327V332M62 328V333M64 332V338M65 329V335M67 327V334M69 326V334M70 327V335M72 327V333M73 328V331M75 330V340M77 336V347M78 337V347M80 341V349M81 344V352M83 343V349M85 344V364M86 344V357M88 344V350M89 343V349M91 345V352M93 348V356M94 353V360M96 352V358M97 352V370M99 357V369M101 363V369M102 372V376M104 371V376M105 370V376M107 357V367M109 357V363M110 357V365M112 361V368M113 354V361M115 352V359M117 349V357M118 350V357M120 357V367M121 360V366M123 362V367M125 364V370M126 368V377M128 370V380M129 367V376M131 368V376M133 368V376M134 370V378M136 370V378M137 375V383M139 376V386M141 386V409M142 392V412M144 401V419M145 401V411M147 382V400M149 381V393M150 376V386M152 367V378M153 343V363M155 338V357M157 338V350M158 342V350M160 335V344M161 334V342M163 331V340M165 330V339M166 327V335M168 320V329M169 321V327M171 317V321M173 317V325M174 316V321M176 319V330M177 314V320M179 315V326M181 312V318M182 300V313M184 294V304M185 290V300M187 281V293M189 285V296M190 285V299M192 297V306M193 292V301M195 282V294M197 286V296M198 290V299M200 302V320M201 300V313M203 295V303M205 282V291M206 275V281M208 277V285M209 272V278M211 258V273M213 254V267M214 249V259M216 248V262M217 252V267M219 259V272M221 262V275M222 264V280M224 261V274M225 259V272M227 267V281M229 272V283M230 278V288M232 275V289M233 272V290M235 275V298M237 275V302M238 277V287M240 277V286M241 276V286M243 278V288M245 277V286M246 274V284M248 276V285M249 278V288M251 276V285M253 274V285M254 269V278M256 265V274M257 256V269M259 257V266M261 260V268M262 263V271M264 269V274M265 270V291M267 271V290M269 270V290M270 269V284M272 268V281M273 263V276M275 268V279M277 274V284M278 271V279M280 261V271M281 260V269M283 257V267M285 258V265M286 255V265M288 253V264M289 262V276M291 266V281M293 271V279M294 271V280M296 271V282M297 277V288M299 280V292M301 270V287M302 268V283M304 265V276M305 266V275M307 267V275M309 253V266M310 254V265M312 255V263M313 256V263M315 257V263M317 255V262M318 252V262M320 250V257M321 248V255M323 246V258M325 251V262M326 253V266M328 256V266M329 257V267M331 256V262M332 252V260M334 248V259M336 236V247M337 239V250M339 243V256M340 240V251M342 237V247M344 232V241M345 221V231M347 223V233M348 224V235M350 233V243M352 230V241M353 222V229M355 216V228M356 217V229M358 219V230M360 215V222M361 214V220M363 209V218M364 205V214M366 200V210M368 191V199M369 187V193M371 183V193M372 183V189M374 182V187M376 182V188M377 186V193M379 187V195M380 187V193M382 185V193M384 182V190M385 180V189M387 187V192M388 192V196M390 193V199M392 193V202M393 185V195M395 179V190M396 173V186M398 172V180M400 174V181M401 175V182M403 179V194M404 180V187M406 180V187M408 178V186M409 172V187M411 174V186M412 176V185M414 179V187M416 177V184M417 175V182M419 174V179M420 175V182M422 179V188M424 182V196M425 180V191M427 180V188M428 179V185M430 180V186M432 180V187M433 180V187M435 174V181M436 175V180M438 176V180M440 171V177M441 170V176M443 169V175M444 169V174M446 168V172M448 166V171M449 163V170M451 162V169M452 160V166M454 161V166M456 161V166M457 161V168M459 165V173M460 168V179M462 165V171M464 162V168M465 159V166M467 156V165M468 154V163M470 147V155M472 143V151M473 139V149M475 138V146M476 138V144M478 135V143M480 131V143M481 136V145M483 143V148M484 140V145M486 138V143M488 134V139M489 130V138M491 133V139M492 137V144M494 147V166M496 144V157M497 142V155M499 138V153M500 145V152M502 147V153M504 148V155M505 151V161M507 148V157M508 144V149M510 133V147M512 134V146M513 133V144M515 131V138M516 119V130M518 104V119M520 105V116M521 104V113M523 105V113M524 105V113M526 103V110M528 106V111M529 109V113M531 111V118M532 112V116M534 112V117M536 111V118M537 116V124M539 114V124M540 111V124M542 111V125M544 110V127M545 105V119M547 103V110M548 106V118M550 110V122M552 114V129M553 120V133M555 123V135M556 128V139M558 135V146M560 140V155M561 148V167M563 153V167M564 153V167M566 158V167M568 180V190M569 183V193M571 184V196M572 166V187M574 166V176M576 165V175M577 170V177M579 164V171M580 161V169M582 159V167M584 162V174M585 162V173M587 163V173M588 176V187M590 175V184M592 174V183M593 183V196M595 182V190M596 177V181M598 171V177M600 171V176M601 171V175M603 161V173M604 159V166M606 148V157M608 147V154M609 147V153M611 144V153M612 140V150M614 137V149M616 117V130M617 116V123M619 120V131M620 124V137M622 127V144M624 141V152M625 146V156M627 155V165M628 159V183M630 159V196M632 169V181M633 171V181M635 173V183M636 176V187M638 172V176M640 163V174M641 164V172M643 165V170M644 167V187M646 172V181M648 169V178M649 167V176M651 176V186M652 190V204M654 168V187M655 172V187M657 176V187M659 183V208M660 213V222M662 218V235M663 239V269M665 256V307M667 243V281M668 241V269M670 231V256M671 232V251M673 232V247M675 248V276M676 263V290M678 254V278M679 254V266M681 238V260M683 239V255M684 241V252M686 243V261M687 228V237M689 212V224M691 210V220M692 210V218M694 209V217M695 202V214M697 201V214M699 202V212M700 202V211M702 199V209M703 196V208M705 192V205M707 193V204M708 195V205M710 199V212M711 204V218M713 210V220M715 209V220M716 208V221M718 209V219M719 210V217M721 214V227M723 214V227M724 214V230M726 223V236M727 233V244M729 250V263M731 252V266M732 264V275M734 262V278M735 270V283M737 277V288M739 278V300M740 301V312M742 302V312M743 301V314M745 307V319M747 309V323M748 301V316M750 293V306M751 288V299M753 286V296M755 297V305M756 295V301M758 282V290M759 281V290M761 282V291M763 283V294M764 283V291M766 276V286M767 274V281M769 276V283M771 278V286M772 277V286M774 277V287M775 281V288M777 281V290M779 291V300M780 304V313M782 317V328M783 319V328M785 319V329M787 320V331M788 317V325M790 313V320M791 320V332M793 321V331M795 322V332M796 314V323M798 306V314M799 307V315M801 307V317M803 313V327M804 314V331M806 315V337M807 315V333M809 314V329M811 307V318M812 312V322M814 316V329M815 323V334M817 327V343M819 327V340M820 324V336M822 320V330M823 315V324M825 314V323M827 311V320M828 311V316M830 315V331M831 317V327M833 318V325M835 304V316M836 300V308M838 302V310M839 303V313M841 305V317M843 304V319M844 301V314M846 302V312M847 304V313M849 295V306M851 294V303M852 291V301M854 291V307M855 302V308M857 304V311M859 312V324M860 313V325M862 314V328M863 317V333M865 328V339M867 338V345M868 337V358M870 348V364M871 356V370M873 357V372M875 357V374M876 365V377M878 362V372M879 358V368M881 347V358M883 338V354M884 351V357M886 349V355M887 345V352M889 352V364M891 348V363M892 352V364M894 354V366M895 357V376M897 365V382M899 372V390M900 375V393M902 377V398M903 386V398M905 391V399M907 391V405M908 373V385M910 374V384M911 379V389M913 381V394M915 388V400M916 390V401M918 391V405M919 386V398M921 383V393M923 377V384M924 379V388M926 380V392M927 380V392M929 380V389M931 378V384M932 369V379M934 360V369M935 355V365M937 351V363M939 341V351M940 338V347M942 331V342M943 326V337M945 321V333M947 314V329M948 309V329M950 290V305M951 287V300M953 292V302M955 296V311M956 301V310M958 299V313M959 298V313M961 297V306M963 290V300M964 292V300M966 291V300M967 290V296M969 290V297M971 285V295M972 285V294M974 283V291M975 289V294M977 291V297M978 293V300M980 294V300M982 294V300M983 276V293M985 278V291M986 282V293M988 290V299M990 289V298M991 288V299M993 278V286M994 279V287M996 281V290M998 283V290M999 283V291M1001 277V289M1002 272V285M1004 263V279M1006 260V272M1007 256V266M1009 247V259M1010 240V249M1012 230V245M1014 231V242M1015 231V239M1017 233V243M1018 235V244M1020 236V245M1022 240V246M1023 245V255M1025 238V249M1026 230V243M1028 238V248M1030 243V251M1031 237V246M1033 240V248M1034 242V251M1036 239V250M1038 239V248M1039 237V246M1041 239V249M1042 240V253M1044 238V249M1046 236V247M1047 242V254M1049 243V257M1050 247V256M1052 246V256M1054 243V255M1055 246V255M1057 247V255M1058 247V261M1060 257V270M1062 257V268M1063 256V266M1065 255V264M1066 253V263M1068 248V262M1070 246V262M1071 251V261M1073 238V251M1074 237V246M1076 239V247M1078 241V249M1079 251V267M1081 255V279M1082 263V284M1084 266V286M1086 279V296M1087 280V299M1089 278V306M1090 277V286M1092 279V287M1094 282V290M1095 284V297M1097 284V294M1098 281V289M1100 277V285M1102 267V281M1103 263V275M1105 257V270M1106 257V265M1108 258V267M1110 258V271M1111 253V265M1113 250V262M1114 243V253M1116 240V247M1118 237V243M1119 225V240M1121 223V236M1122 221V234M1124 227V234M1126 225V234M1127 227V236M1129 229V239M1130 216V227M1132 216V225M1134 216V224M1135 220V236M1137 219V230M1138 217V227M1140 212V224M1142 213V223M1143 214V224M1145 213V221M1146 212V221M1148 213V220M1150 213V220M1151 212V219M1153 204V215M1154 197V208M1156 193V201M1158 202V214M1159 204V220M1161 203V214M1162 202V210M1164 209V218M1166 216V232M1167 197V216M1169 194V209M1170 186V198M1172 188V196M1174 187V196M1175 184V191M1177 183V194M1178 183V197M1180 179V192M1182 177V188M1183 168V177M1185 172V180M1186 177V186M1188 178V186M1190 178V186M1191 179V194M1193 179V193M1194 178V194M1196 179V190M1198 179V187M1199 175V182M1201 173V180M1202 173V186M1204 178V193M1206 180V198M1207 177V186M1209 173V178M1210 165V175M1212 156V173M1214 148V159M1215 143V155M1217 139V153M1218 133V141M1220 135V142M1222 136V145M1223 134V142M1225 132V139M1226 133V141M1228 132V142M1230 132V139M1231 130V137M1233 128V136M1234 134V146M1236 137V151M1238 137V144M1239 140V149M1241 146V159M1242 144V156M1244 141V154M1246 145V154M1247 146V154M1249 155V167M1250 160V172M1252 163V178M1254 167V175M1255 167V175M1257 167V177M1258 169V179M1260 169V180M1262 166V174M1263 164V171M1265 161V169M1266 162V170M1268 161V171M1270 159V171M1271 169V177M1273 174V198M1274 179V196M1276 186V196M1278 184V193M1279 182V192M1281 181V191M1282 179V189M1284 176V186M1286 180V190M1287 182V195M1289 178V193M1290 182V194M1292 186V195M1293 190V199M1295 192V201M1297 194V205M1298 198V213M1300 196V205" stroke="#000" stroke-width="1" fill="none"/>
<rect x="1027.5" y="274.5" width="17" height="18" fill="#c9e3ea" stroke="#57b3cf" stroke-width="1"/>
<text x="1036.0" y="287.8" font-size="12" fill="#1d4563" text-anchor="middle">50</text>
<rect x="1036.5" y="293.5" width="23" height="18" fill="#c9e3ea" stroke="#57b3cf" stroke-width="1"/>
<text x="1048.0" y="306.8" font-size="12" fill="#1d4563" text-anchor="middle">100</text>
<rect x="1025.5" y="319.5" width="23" height="18" fill="#c9e3ea" stroke="#57b3cf" stroke-width="1"/>
<text x="1037.0" y="332.8" font-size="12" fill="#1d4563" text-anchor="middle">200</text>
<circle cx="389.4" cy="208.5" r="6.8" fill="#559a2d"/>
<path d="M389.4 212.1v-6.6m-2.3 2.3l2.3 -2.5l2.3 2.5" stroke="#fff" stroke-width="1.5" fill="none" stroke-linecap="round" stroke-linejoin="round"/>
<circle cx="426.5" cy="209.3" r="6.8" fill="#559a2d"/>
<path d="M426.5 212.9v-6.6m-2.3 2.3l2.3 -2.5l2.3 2.5" stroke="#fff" stroke-width="1.5" fill="none" stroke-linecap="round" stroke-linejoin="round"/>
<circle cx="573.5" cy="209.6" r="6.8" fill="#559a2d"/>
<path d="M573.5 213.2v-6.6m-2.3 2.3l2.3 -2.5l2.3 2.5" stroke="#fff" stroke-width="1.5" fill="none" stroke-linecap="round" stroke-linejoin="round"/>
<circle cx="596.2" cy="212.1" r="6.8" fill="#559a2d"/>
<path d="M596.2 215.7v-6.6m-2.3 2.3l2.3 -2.5l2.3 2.5" stroke="#fff" stroke-width="1.5" fill="none" stroke-linecap="round" stroke-linejoin="round"/>
<circle cx="705.7" cy="181.4" r="6.8" fill="#d04a4e"/>
<path d="M705.7 177.8v6.6m-2.3 -2.3l2.3 2.5l2.3 -2.5" stroke="#fff" stroke-width="1.5" fill="none" stroke-linecap="round" stroke-linejoin="round"/>
<circle cx="1160.5" cy="184.3" r="6.8" fill="#d04a4e"/>
<path d="M1160.5 180.70000000000002v6.6m-2.3 -2.3l2.3 2.5l2.3 -2.5" stroke="#fff" stroke-width="1.5" fill="none" stroke-linecap="round" stroke-linejoin="round"/>
<circle cx="1210.5" cy="202.8" r="6.8" fill="#559a2d"/>
<path d="M1210.5 206.4v-6.6m-2.3 2.3l2.3 -2.5l2.3 2.5" stroke="#fff" stroke-width="1.5" fill="none" stroke-linecap="round" stroke-linejoin="round"/>
<circle cx="1280.1" cy="203.3" r="6.8" fill="#559a2d"/>
<path d="M1280.1 206.9v-6.6m-2.3 2.3l2.3 -2.5l2.3 2.5" stroke="#fff" stroke-width="1.5" fill="none" stroke-linecap="round" stroke-linejoin="round"/>
<line x1="513" y1="102.9" x2="1276" y2="102.9" stroke="#8ac5d8" stroke-width="2.05" opacity="0.93"/>
<line x1="290.5" y1="189.3" x2="1343" y2="189.3" stroke="#8ac5d8" stroke-width="2.05" opacity="0.93"/>
<line x1="290.5" y1="198.3" x2="1343" y2="198.3" stroke="#8ac5d8" stroke-width="2.05" opacity="0.93"/>
<line x1="1000.5" y1="229.5" x2="1308.5" y2="229.5" stroke="#8ac5d8" stroke-width="2.05" opacity="0.93"/>
<line x1="1000.5" y1="236.6" x2="1308.5" y2="236.6" stroke="#8ac5d8" stroke-width="2.05" opacity="0.93"/>
<line shape-rendering="crispEdges" x1="117" y1="209.5" x2="1343" y2="209.5" stroke="#2f8fab" stroke-width="1" stroke-dasharray="5 5"/>
<path d="M11.5 203.5H109L114 209.75L109 216H11.5Z" fill="#2f8fab" stroke="#2f8fab" stroke-width="1"/>
<rect x="12" y="204" width="50" height="11.5" fill="#fff"/>
<text x="13.5" y="213" font-size="9.5" fill="#2f8fab" textLength="47" lengthAdjust="spacingAndGlyphs">Odniesienie</text>
<text x="65.2" y="213" font-size="9.5" fill="#fff" textLength="40.8" lengthAdjust="spacingAndGlyphs">64 417.96</text>
<text x="14" y="473" font-size="11" fill="#737373" textLength="47.25" lengthAdjust="spacingAndGlyphs">6-lip-2020</text>
<text x="79" y="473" font-size="11" fill="#737373" textLength="26" lengthAdjust="spacingAndGlyphs">1-wrz</text>
<text x="149" y="473" font-size="11" fill="#737373" textLength="18" lengthAdjust="spacingAndGlyphs">2-lis</text>
<text x="212" y="473" font-size="11" fill="#737373" textLength="52.5" lengthAdjust="spacingAndGlyphs">4-sty-2021</text>
<text x="310" y="473" font-size="11" fill="#737373" textLength="23.5" lengthAdjust="spacingAndGlyphs">1-kwi</text>
<text x="374" y="473" font-size="11" fill="#737373" textLength="24.8" lengthAdjust="spacingAndGlyphs">1-cze</text>
<text x="442" y="473" font-size="11" fill="#737373" textLength="21.75" lengthAdjust="spacingAndGlyphs">2-sie</text>
<text x="476" y="473" font-size="11" fill="#737373" textLength="26" lengthAdjust="spacingAndGlyphs">1-wrz</text>
<text x="545" y="473" font-size="11" fill="#737373" textLength="18" lengthAdjust="spacingAndGlyphs">2-lis</text>
<text x="609" y="473" font-size="11" fill="#737373" textLength="52.5" lengthAdjust="spacingAndGlyphs">3-sty-2022</text>
<text x="673" y="473" font-size="11" fill="#737373" textLength="26.4" lengthAdjust="spacingAndGlyphs">1-mar</text>
<text x="772" y="473" font-size="11" fill="#737373" textLength="24.8" lengthAdjust="spacingAndGlyphs">1-cze</text>
<text x="839" y="473" font-size="11" fill="#737373" textLength="21.75" lengthAdjust="spacingAndGlyphs">1-sie</text>
<text x="874" y="473" font-size="11" fill="#737373" textLength="26" lengthAdjust="spacingAndGlyphs">1-wrz</text>
<text x="942" y="473" font-size="11" fill="#737373" textLength="18" lengthAdjust="spacingAndGlyphs">2-lis</text>
<text x="1007" y="473" font-size="11" fill="#737373" textLength="53" lengthAdjust="spacingAndGlyphs">2-sty-2023</text>
<text x="1072" y="473" font-size="11" fill="#737373" textLength="26.4" lengthAdjust="spacingAndGlyphs">1-mar</text>
<text x="1170" y="473" font-size="11" fill="#737373" textLength="24.8" lengthAdjust="spacingAndGlyphs">1-cze</text>
<text x="1236" y="473" font-size="11" fill="#737373" textLength="21.75" lengthAdjust="spacingAndGlyphs">1-sie</text>
<text x="1393" y="56.6" font-size="11" fill="#737373" text-anchor="end" textLength="32" lengthAdjust="spacingAndGlyphs">80 000</text>
<text x="1393" y="107.3" font-size="11" fill="#737373" text-anchor="end" textLength="32" lengthAdjust="spacingAndGlyphs">75 000</text>
<text x="1393" y="157.3" font-size="11" fill="#737373" text-anchor="end" textLength="32" lengthAdjust="spacingAndGlyphs">70 000</text>
<text x="1393" y="206.6" font-size="11" fill="#737373" text-anchor="end" textLength="32" lengthAdjust="spacingAndGlyphs">65 000</text>
<text x="1393" y="257.6" font-size="11" fill="#737373" text-anchor="end" textLength="32" lengthAdjust="spacingAndGlyphs">60 000</text>
<text x="1393" y="307.6" font-size="11" fill="#737373" text-anchor="end" textLength="32" lengthAdjust="spacingAndGlyphs">55 000</text>
<text x="1393" y="357.6" font-size="11" fill="#737373" text-anchor="end" textLength="32" lengthAdjust="spacingAndGlyphs">50 000</text>
<text x="1393" y="407.6" font-size="11" fill="#737373" text-anchor="end" textLength="32" lengthAdjust="spacingAndGlyphs">45 000</text>
<text x="1393" y="458.6" font-size="11" fill="#737373" text-anchor="end" textLength="32" lengthAdjust="spacingAndGlyphs">40 000</text>
<text x="1366.8999999999999" y="512.2" font-size="11" fill="#737373" textLength="26.4" lengthAdjust="spacingAndGlyphs">2 000</text>
<text x="1366.8999999999999" y="541.2" font-size="11" fill="#737373" textLength="26.4" lengthAdjust="spacingAndGlyphs">1 000</text>
<text x="1387.5" y="571.2" font-size="11" fill="#737373" textLength="5.8" lengthAdjust="spacingAndGlyphs">0</text>
<text x="1363.3" y="601.2" font-size="11" fill="#737373" textLength="30" lengthAdjust="spacingAndGlyphs">-1 000</text>
<text x="1363.3" y="631.2" font-size="11" fill="#737373" textLength="30" lengthAdjust="spacingAndGlyphs">-2 000</text>
<text x="1363.3" y="661.2" font-size="11" fill="#737373" textLength="30" lengthAdjust="spacingAndGlyphs">-3 000</text>
<rect shape-rendering="crispEdges" x="1345.5" y="160.5" width="50" height="14" fill="#f6dcdc" stroke="#00b050" stroke-width="1"/>
<text x="1346.5" y="171.5" font-size="11" fill="#ff2b1c" textLength="48" lengthAdjust="spacingAndGlyphs">68 564.34</text>
<rect shape-rendering="crispEdges" x="1345.5" y="170.5" width="50" height="14" fill="#eaf0dc" stroke="#948a54" stroke-width="1"/>
<text x="1346.5" y="181.5" font-size="11" fill="#6b9b17" textLength="48" lengthAdjust="spacingAndGlyphs">67 528.25</text>
<rect shape-rendering="crispEdges" x="1345.5" y="172.5" width="50" height="14" fill="#f6dcdc" stroke="#77933c" stroke-width="1"/>
<text x="1346.5" y="183.5" font-size="11" fill="#ff2b1c" textLength="48" lengthAdjust="spacingAndGlyphs">67 362.80</text>
<rect shape-rendering="crispEdges" x="1345.5" y="180.5" width="50" height="14" fill="#f6dcdc" stroke="#f79646" stroke-width="1"/>
<text x="1346.5" y="191.5" font-size="11" fill="#ff2b1c" textLength="48" lengthAdjust="spacingAndGlyphs">66 603.52</text>
<rect shape-rendering="crispEdges" x="1345.5" y="209.5" width="50" height="14" fill="#eaf0dc" stroke="#558ed5" stroke-width="1"/>
<text x="1346.5" y="220.5" font-size="11" fill="#6b9b17" textLength="48" lengthAdjust="spacingAndGlyphs">63 694.91</text>
<rect shape-rendering="crispEdges" x="1345.5" y="203.5" width="50" height="14" fill="#eaf0dc" stroke="#c0504d" stroke-width="1"/>
<text x="1346.5" y="214.5" font-size="11" fill="#6b9b17" textLength="48" lengthAdjust="spacingAndGlyphs">64 240.91</text>
<rect shape-rendering="crispEdges" x="1345.5" y="192.5" width="50" height="14" fill="#eaf0dc" stroke="#222222" stroke-width="1"/>
<text x="1346.5" y="203.5" font-size="11" fill="#6b9b17" textLength="48" lengthAdjust="spacingAndGlyphs">65 397.43</text>
<rect shape-rendering="crispEdges" x="1345.5" y="582.5" width="39" height="14" fill="#f6dcdc" stroke="#f79646" stroke-width="1"/>
<text x="1346.5" y="593.5" font-size="11" fill="#ff2b1c" textLength="37" lengthAdjust="spacingAndGlyphs">-749.65</text>
<rect shape-rendering="crispEdges" x="1345.5" y="585.5" width="39" height="14" fill="#eaf0dc" stroke="#c0504d" stroke-width="1"/>
<text x="1346.5" y="596.5" font-size="11" fill="#6b9b17" textLength="37" lengthAdjust="spacingAndGlyphs">-855.66</text>
<rect shape-rendering="crispEdges" x="1345.5" y="563.5" width="39" height="14" fill="#eaf0dc" stroke="#76923c" stroke-width="1"/>
<text x="1346.5" y="574.5" font-size="11" fill="#6b9b17" textLength="37" lengthAdjust="spacingAndGlyphs">-106.01</text>
<text x="38.1" y="46" font-size="11" fill="#444444" textLength="24" lengthAdjust="spacingAndGlyphs">WIG:</text>
<text x="63.7" y="46" font-size="11" fill="#6b9b17" textLength="49" lengthAdjust="spacingAndGlyphs">65 397.43</text>
<text x="116.9" y="46" font-size="11" fill="#c0504d" textLength="24" lengthAdjust="spacingAndGlyphs">EMA:</text>
<text x="142.5" y="46" font-size="11" fill="#6b9b17" textLength="49" lengthAdjust="spacingAndGlyphs">64 240.91</text>
<text x="195.8" y="46" font-size="11" fill="#f79646" textLength="24" lengthAdjust="spacingAndGlyphs">EMA:</text>
<text x="221.3" y="46" font-size="11" fill="#ff2b1c" textLength="49" lengthAdjust="spacingAndGlyphs">66 603.52</text>
<text x="274.6" y="46" font-size="11" fill="#77933c" textLength="24" lengthAdjust="spacingAndGlyphs">EMA:</text>
<text x="300.4" y="46" font-size="11" fill="#ff2b1c" textLength="48.5" lengthAdjust="spacingAndGlyphs">67 362.80</text>
<text x="353.5" y="46" font-size="11" fill="#558ed5" textLength="24" lengthAdjust="spacingAndGlyphs">SMA:</text>
<text x="379.5" y="46" font-size="11" fill="#6b9b17" textLength="49" lengthAdjust="spacingAndGlyphs">63 694.91</text>
<text x="432.3" y="46" font-size="11" fill="#948a54" textLength="24" lengthAdjust="spacingAndGlyphs">SMA:</text>
<text x="458.3" y="46" font-size="11" fill="#6b9b17" textLength="49" lengthAdjust="spacingAndGlyphs">67 528.25</text>
<text x="511.6" y="46" font-size="11" fill="#00b050" textLength="23.5" lengthAdjust="spacingAndGlyphs">SMA:</text>
<text x="537.2" y="46" font-size="11" fill="#ff2b1c" textLength="49.3" lengthAdjust="spacingAndGlyphs">68 564.34</text>
<text x="37.7" y="500.7" font-size="11" fill="#c0504d" textLength="31.2" lengthAdjust="spacingAndGlyphs">MACD:</text>
<text x="72" y="500.7" font-size="11" fill="#6b9b17" textLength="37.3" lengthAdjust="spacingAndGlyphs">-855.66</text>
<text x="113.7" y="500.7" font-size="11" fill="#f79646" textLength="62" lengthAdjust="spacingAndGlyphs">MACD Signal:</text>
<text x="178.9" y="500.7" font-size="11" fill="#ff2b1c" textLength="37.8" lengthAdjust="spacingAndGlyphs">-749.65</text>
<text x="221" y="500.7" font-size="11" fill="#77933c" textLength="82" lengthAdjust="spacingAndGlyphs">MACD Histogram:</text>
<text x="306.2" y="500.7" font-size="11" fill="#6b9b17" textLength="37.6" lengthAdjust="spacingAndGlyphs">-106.01</text>
<text x="27.5" y="20.6" font-size="12" font-weight="bold" fill="#1f4e9c" textLength="91.5" lengthAdjust="spacingAndGlyphs">WIG (Dzienny)</text>
<polyline points="8.9,18.9 12.9,12.9 16.8,22.1 21,11.9" fill="none" stroke="#4a90d9" stroke-width="1.3"/>
<circle cx="8.9" cy="18.9" r="1.7" fill="#fff" stroke="#8a8a8a" stroke-width="0.9"/>
<circle cx="12.9" cy="12.9" r="1.7" fill="#fff" stroke="#8a8a8a" stroke-width="0.9"/>
<circle cx="16.8" cy="22.1" r="1.7" fill="#fff" stroke="#8a8a8a" stroke-width="0.9"/>
<circle cx="21" cy="11.9" r="1.7" fill="#fff" stroke="#8a8a8a" stroke-width="0.9"/>
<g fill="none" stroke="#686868" stroke-width="1.15" stroke-linejoin="round">
<circle cx="19.9" cy="42" r="2.7"/>
<rect x="16.099999999999998" y="38.2" width="7.6" height="7.6" stroke="#dadada" stroke-width="0.8"/>
<path d="M19.9 34l3 3.2h-6z"/>
<path d="M19.9 50l3 -3.2h-6z"/>
<path d="M11.899999999999999 42l3.2 -3v6z"/>
<path d="M27.9 42l-3.2 -3v6z"/>
</g>
<g fill="none" stroke="#686868" stroke-width="1.15" stroke-linejoin="round">
<circle cx="19.9" cy="496.8" r="2.7"/>
<rect x="16.099999999999998" y="493.0" width="7.6" height="7.6" stroke="#dadada" stroke-width="0.8"/>
<path d="M19.9 488.8l3 3.2h-6z"/>
<path d="M19.9 504.8l3 -3.2h-6z"/>
<path d="M11.899999999999999 496.8l3.2 -3v6z"/>
<path d="M27.9 496.8l-3.2 -3v6z"/>
</g>
<rect shape-rendering="crispEdges" x="1344" y="19" width="13" height="2" fill="#6e6e6e"/>
<g fill="none" stroke="#6e6e6e" stroke-width="1"><path d="M1369.5 13V10.5H1376.5V16.5H1372"/><rect x="1364.5" y="13.5" width="7" height="6"/><path d="M1386.3 11.3L1395.5 19.7M1395.5 11.3L1386.3 19.7" stroke-width="1.2"/></g>
</svg></body></html>
